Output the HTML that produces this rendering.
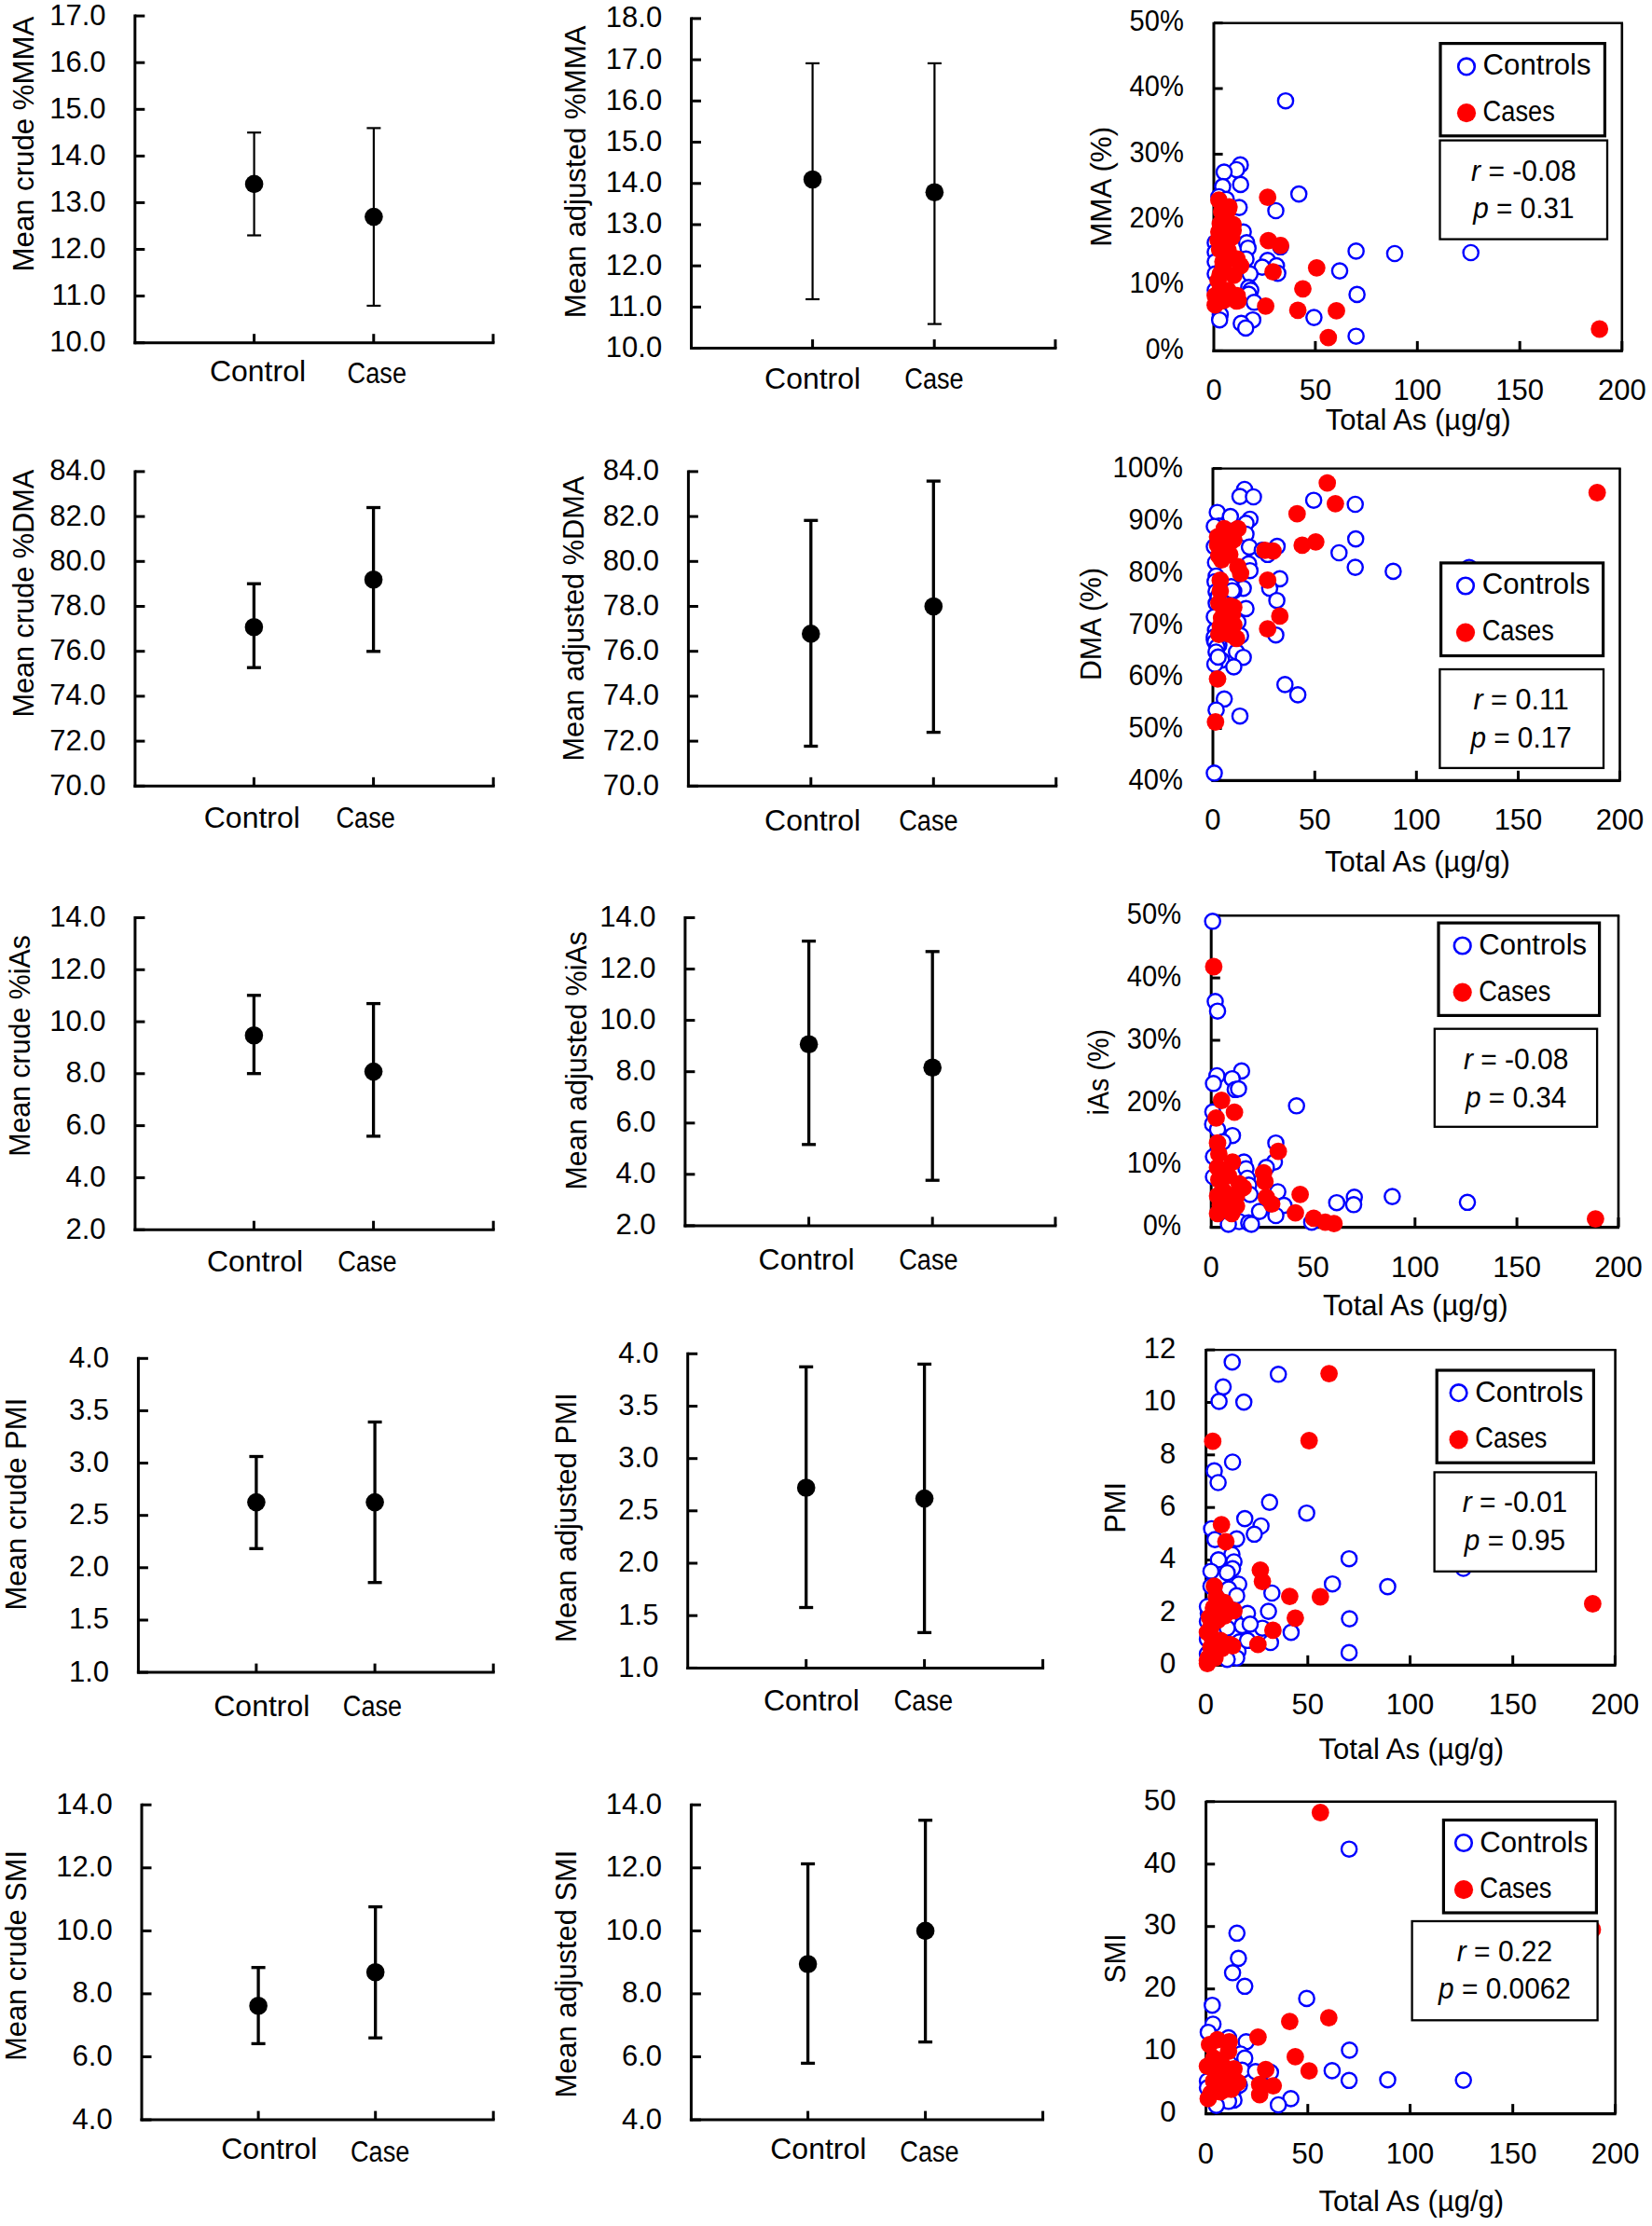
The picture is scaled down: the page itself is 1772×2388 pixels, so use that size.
<!DOCTYPE html>
<html lang="en"><head><meta charset="utf-8"><title>Arsenic metabolism figure</title>
<style>
html,body{margin:0;padding:0;background:#fff;}
svg{display:block;}
text{font-family:"Liberation Sans", sans-serif;fill:#000;}
</style></head>
<body>
<svg width="1772" height="2388" viewBox="0 0 1772 2388">
<rect width="1772" height="2388" fill="#fff"/>
<line x1="144.8" y1="15.6" x2="144.8" y2="369.2" stroke="#000" stroke-width="3.0" stroke-linecap="butt"/>
<line x1="143.3" y1="367.7" x2="530.5" y2="367.7" stroke="#000" stroke-width="3.0" stroke-linecap="butt"/>
<line x1="144.8" y1="17.1" x2="155.3" y2="17.1" stroke="#000" stroke-width="3.0" stroke-linecap="butt"/>
<text x="113.5" y="26.5" font-size="31" text-anchor="end">17.0</text>
<line x1="144.8" y1="67.2" x2="155.3" y2="67.2" stroke="#000" stroke-width="3.0" stroke-linecap="butt"/>
<text x="113.5" y="76.6" font-size="31" text-anchor="end">16.0</text>
<line x1="144.8" y1="117.3" x2="155.3" y2="117.3" stroke="#000" stroke-width="3.0" stroke-linecap="butt"/>
<text x="113.5" y="126.7" font-size="31" text-anchor="end">15.0</text>
<line x1="144.8" y1="167.4" x2="155.3" y2="167.4" stroke="#000" stroke-width="3.0" stroke-linecap="butt"/>
<text x="113.5" y="176.8" font-size="31" text-anchor="end">14.0</text>
<line x1="144.8" y1="217.4" x2="155.3" y2="217.4" stroke="#000" stroke-width="3.0" stroke-linecap="butt"/>
<text x="113.5" y="226.8" font-size="31" text-anchor="end">13.0</text>
<line x1="144.8" y1="267.5" x2="155.3" y2="267.5" stroke="#000" stroke-width="3.0" stroke-linecap="butt"/>
<text x="113.5" y="276.9" font-size="31" text-anchor="end">12.0</text>
<line x1="144.8" y1="317.6" x2="155.3" y2="317.6" stroke="#000" stroke-width="3.0" stroke-linecap="butt"/>
<text x="113.5" y="327.0" font-size="31" text-anchor="end">11.0</text>
<line x1="144.8" y1="367.7" x2="155.3" y2="367.7" stroke="#000" stroke-width="3.0" stroke-linecap="butt"/>
<text x="113.5" y="377.1" font-size="31" text-anchor="end">10.0</text>
<line x1="272.6" y1="367.7" x2="272.6" y2="358.2" stroke="#000" stroke-width="3.0" stroke-linecap="butt"/>
<line x1="400.8" y1="367.7" x2="400.8" y2="358.2" stroke="#000" stroke-width="3.0" stroke-linecap="butt"/>
<line x1="529.0" y1="367.7" x2="529.0" y2="358.2" stroke="#000" stroke-width="3.0" stroke-linecap="butt"/>
<line x1="272.6" y1="142.2" x2="272.6" y2="252.5" stroke="#000" stroke-width="2.2" stroke-linecap="butt"/>
<line x1="265.1" y1="142.2" x2="280.1" y2="142.2" stroke="#000" stroke-width="2.2" stroke-linecap="butt"/>
<line x1="265.1" y1="252.5" x2="280.1" y2="252.5" stroke="#000" stroke-width="2.2" stroke-linecap="butt"/>
<circle cx="272.6" cy="197.4" r="9.8" fill="#000"/>
<line x1="400.9" y1="137.4" x2="400.9" y2="328.0" stroke="#000" stroke-width="2.2" stroke-linecap="butt"/>
<line x1="393.4" y1="137.4" x2="408.4" y2="137.4" stroke="#000" stroke-width="2.2" stroke-linecap="butt"/>
<line x1="393.4" y1="328.0" x2="408.4" y2="328.0" stroke="#000" stroke-width="2.2" stroke-linecap="butt"/>
<circle cx="400.9" cy="232.6" r="9.8" fill="#000"/>
<text x="36.5" y="154.7" font-size="31" text-anchor="middle" textLength="273.8" lengthAdjust="spacingAndGlyphs" transform="rotate(-90 36.5 154.7)">Mean crude %MMA</text>
<text x="276.5" y="409.3" font-size="31" text-anchor="middle" textLength="103.0" lengthAdjust="spacingAndGlyphs">Control</text>
<text x="404.3" y="410.8" font-size="31" text-anchor="middle" textLength="63.4" lengthAdjust="spacingAndGlyphs">Case</text>
<line x1="741.5" y1="18.4" x2="741.5" y2="375.1" stroke="#000" stroke-width="3.0" stroke-linecap="butt"/>
<line x1="740.0" y1="373.6" x2="1133.5" y2="373.6" stroke="#000" stroke-width="3.0" stroke-linecap="butt"/>
<line x1="741.5" y1="19.9" x2="752.0" y2="19.9" stroke="#000" stroke-width="3.0" stroke-linecap="butt"/>
<text x="710.2" y="29.3" font-size="31" text-anchor="end">18.0</text>
<line x1="741.5" y1="64.1" x2="752.0" y2="64.1" stroke="#000" stroke-width="3.0" stroke-linecap="butt"/>
<text x="710.2" y="73.5" font-size="31" text-anchor="end">17.0</text>
<line x1="741.5" y1="108.3" x2="752.0" y2="108.3" stroke="#000" stroke-width="3.0" stroke-linecap="butt"/>
<text x="710.2" y="117.7" font-size="31" text-anchor="end">16.0</text>
<line x1="741.5" y1="152.5" x2="752.0" y2="152.5" stroke="#000" stroke-width="3.0" stroke-linecap="butt"/>
<text x="710.2" y="161.9" font-size="31" text-anchor="end">15.0</text>
<line x1="741.5" y1="196.8" x2="752.0" y2="196.8" stroke="#000" stroke-width="3.0" stroke-linecap="butt"/>
<text x="710.2" y="206.2" font-size="31" text-anchor="end">14.0</text>
<line x1="741.5" y1="241.0" x2="752.0" y2="241.0" stroke="#000" stroke-width="3.0" stroke-linecap="butt"/>
<text x="710.2" y="250.4" font-size="31" text-anchor="end">13.0</text>
<line x1="741.5" y1="285.2" x2="752.0" y2="285.2" stroke="#000" stroke-width="3.0" stroke-linecap="butt"/>
<text x="710.2" y="294.6" font-size="31" text-anchor="end">12.0</text>
<line x1="741.5" y1="329.4" x2="752.0" y2="329.4" stroke="#000" stroke-width="3.0" stroke-linecap="butt"/>
<text x="710.2" y="338.8" font-size="31" text-anchor="end">11.0</text>
<line x1="741.5" y1="373.6" x2="752.0" y2="373.6" stroke="#000" stroke-width="3.0" stroke-linecap="butt"/>
<text x="710.2" y="383.0" font-size="31" text-anchor="end">10.0</text>
<line x1="871.6" y1="373.6" x2="871.6" y2="364.1" stroke="#000" stroke-width="3.0" stroke-linecap="butt"/>
<line x1="1002.2" y1="373.6" x2="1002.2" y2="364.1" stroke="#000" stroke-width="3.0" stroke-linecap="butt"/>
<line x1="1132.0" y1="373.6" x2="1132.0" y2="364.1" stroke="#000" stroke-width="3.0" stroke-linecap="butt"/>
<line x1="871.6" y1="67.9" x2="871.6" y2="321.0" stroke="#000" stroke-width="2.2" stroke-linecap="butt"/>
<line x1="864.1" y1="67.9" x2="879.1" y2="67.9" stroke="#000" stroke-width="2.2" stroke-linecap="butt"/>
<line x1="864.1" y1="321.0" x2="879.1" y2="321.0" stroke="#000" stroke-width="2.2" stroke-linecap="butt"/>
<circle cx="871.6" cy="192.5" r="9.8" fill="#000"/>
<line x1="1002.4" y1="67.9" x2="1002.4" y2="347.6" stroke="#000" stroke-width="2.2" stroke-linecap="butt"/>
<line x1="994.9" y1="67.9" x2="1009.9" y2="67.9" stroke="#000" stroke-width="2.2" stroke-linecap="butt"/>
<line x1="994.9" y1="347.6" x2="1009.9" y2="347.6" stroke="#000" stroke-width="2.2" stroke-linecap="butt"/>
<circle cx="1002.4" cy="206.3" r="9.8" fill="#000"/>
<text x="628.3" y="184.4" font-size="31" text-anchor="middle" textLength="313.8" lengthAdjust="spacingAndGlyphs" transform="rotate(-90 628.3 184.4)">Mean adjusted %MMA</text>
<text x="871.6" y="416.9" font-size="31" text-anchor="middle" textLength="103.0" lengthAdjust="spacingAndGlyphs">Control</text>
<text x="1002.0" y="416.9" font-size="31" text-anchor="middle" textLength="63.4" lengthAdjust="spacingAndGlyphs">Case</text>
<line x1="1302.0" y1="23.7" x2="1302.0" y2="377.9" stroke="#000" stroke-width="3.0" stroke-linecap="butt"/>
<line x1="1300.5" y1="376.4" x2="1740.8" y2="376.4" stroke="#000" stroke-width="3.2" stroke-linecap="butt"/>
<line x1="1302.0" y1="24.7" x2="1741.0" y2="24.7" stroke="#000" stroke-width="2.4" stroke-linecap="butt"/>
<line x1="1739.8" y1="24.7" x2="1739.8" y2="376.4" stroke="#000" stroke-width="2.6" stroke-linecap="butt"/>
<line x1="1302.0" y1="24.7" x2="1311.6" y2="24.7" stroke="#000" stroke-width="3.0" stroke-linecap="butt"/>
<text x="1269.8" y="33.0" font-size="31" text-anchor="end" textLength="58.2" lengthAdjust="spacingAndGlyphs">50%</text>
<line x1="1302.0" y1="95.0" x2="1311.6" y2="95.0" stroke="#000" stroke-width="3.0" stroke-linecap="butt"/>
<text x="1269.8" y="103.3" font-size="31" text-anchor="end" textLength="58.2" lengthAdjust="spacingAndGlyphs">40%</text>
<line x1="1302.0" y1="165.4" x2="1311.6" y2="165.4" stroke="#000" stroke-width="3.0" stroke-linecap="butt"/>
<text x="1269.8" y="173.7" font-size="31" text-anchor="end" textLength="58.2" lengthAdjust="spacingAndGlyphs">30%</text>
<line x1="1302.0" y1="235.7" x2="1311.6" y2="235.7" stroke="#000" stroke-width="3.0" stroke-linecap="butt"/>
<text x="1269.8" y="244.0" font-size="31" text-anchor="end" textLength="58.2" lengthAdjust="spacingAndGlyphs">20%</text>
<line x1="1302.0" y1="306.1" x2="1311.6" y2="306.1" stroke="#000" stroke-width="3.0" stroke-linecap="butt"/>
<text x="1269.8" y="314.4" font-size="31" text-anchor="end" textLength="58.2" lengthAdjust="spacingAndGlyphs">10%</text>
<line x1="1302.0" y1="376.4" x2="1311.6" y2="376.4" stroke="#000" stroke-width="3.0" stroke-linecap="butt"/>
<text x="1269.8" y="384.7" font-size="31" text-anchor="end" textLength="41.0" lengthAdjust="spacingAndGlyphs">0%</text>
<text x="1302.0" y="429.1" font-size="31" text-anchor="middle">0</text>
<line x1="1410.9" y1="376.4" x2="1410.9" y2="365.9" stroke="#000" stroke-width="3.0" stroke-linecap="butt"/>
<text x="1410.9" y="429.1" font-size="31" text-anchor="middle">50</text>
<line x1="1520.3" y1="376.4" x2="1520.3" y2="365.9" stroke="#000" stroke-width="3.0" stroke-linecap="butt"/>
<text x="1520.3" y="429.1" font-size="31" text-anchor="middle">100</text>
<line x1="1630.2" y1="376.4" x2="1630.2" y2="365.9" stroke="#000" stroke-width="3.0" stroke-linecap="butt"/>
<text x="1630.2" y="429.1" font-size="31" text-anchor="middle">150</text>
<line x1="1739.8" y1="376.4" x2="1739.8" y2="365.9" stroke="#000" stroke-width="3.0" stroke-linecap="butt"/>
<text x="1739.8" y="429.1" font-size="31" text-anchor="middle">200</text>
<text x="1521.2" y="461.0" font-size="31" text-anchor="middle" textLength="198.8" lengthAdjust="spacingAndGlyphs">Total As (µg/g)</text>
<text x="1191.6" y="200.3" font-size="31" text-anchor="middle" textLength="128.9" lengthAdjust="spacingAndGlyphs" transform="rotate(-90 1191.6 200.3)">MMA (%)</text>
<g fill="#fff" stroke="#0000ff" stroke-width="2.4">
<circle cx="1330.4" cy="176.9" r="8.1"/>
<circle cx="1326.3" cy="182.0" r="8.1"/>
<circle cx="1313.0" cy="184.6" r="8.1"/>
<circle cx="1330.7" cy="197.9" r="8.1"/>
<circle cx="1311.5" cy="200.1" r="8.1"/>
<circle cx="1307.4" cy="211.0" r="8.1"/>
<circle cx="1315.4" cy="213.9" r="8.1"/>
<circle cx="1329.2" cy="222.6" r="8.1"/>
<circle cx="1393.2" cy="208.1" r="8.1"/>
<circle cx="1368.5" cy="226.0" r="8.1"/>
<circle cx="1333.6" cy="248.8" r="8.1"/>
<circle cx="1337.2" cy="260.4" r="8.1"/>
<circle cx="1338.7" cy="266.2" r="8.1"/>
<circle cx="1303.5" cy="260.4" r="8.1"/>
<circle cx="1303.5" cy="270.6" r="8.1"/>
<circle cx="1303.5" cy="280.8" r="8.1"/>
<circle cx="1303.5" cy="293.8" r="8.1"/>
<circle cx="1303.5" cy="311.3" r="8.1"/>
<circle cx="1373.5" cy="264.8" r="8.1"/>
<circle cx="1359.7" cy="279.3" r="8.1"/>
<circle cx="1369.2" cy="285.1" r="8.1"/>
<circle cx="1353.9" cy="286.6" r="8.1"/>
<circle cx="1370.6" cy="293.1" r="8.1"/>
<circle cx="1340.8" cy="293.8" r="8.1"/>
<circle cx="1339.4" cy="308.4" r="8.1"/>
<circle cx="1341.6" cy="311.3" r="8.1"/>
<circle cx="1339.4" cy="315.6" r="8.1"/>
<circle cx="1345.2" cy="324.3" r="8.1"/>
<circle cx="1308.9" cy="337.4" r="8.1"/>
<circle cx="1308.2" cy="343.2" r="8.1"/>
<circle cx="1343.8" cy="343.2" r="8.1"/>
<circle cx="1331.4" cy="346.9" r="8.1"/>
<circle cx="1336.2" cy="351.9" r="8.1"/>
<circle cx="1454.6" cy="269.4" r="8.1"/>
<circle cx="1496.0" cy="272.0" r="8.1"/>
<circle cx="1437.0" cy="290.6" r="8.1"/>
<circle cx="1455.6" cy="315.9" r="8.1"/>
<circle cx="1409.4" cy="340.6" r="8.1"/>
<circle cx="1454.6" cy="360.7" r="8.1"/>
<circle cx="1336.5" cy="277.9" r="8.1"/>
<circle cx="1379" cy="108.2" r="8.1"/>
<circle cx="1577.7" cy="271" r="8.1"/>
</g>
<g fill="#ff0000">
<circle cx="1307.4" cy="214.7" r="9.4"/>
<circle cx="1318.3" cy="221.9" r="9.4"/>
<circle cx="1310.3" cy="227.0" r="9.4"/>
<circle cx="1308.9" cy="240.1" r="9.4"/>
<circle cx="1322.7" cy="240.8" r="9.4"/>
<circle cx="1307.4" cy="248.8" r="9.4"/>
<circle cx="1321.2" cy="254.6" r="9.4"/>
<circle cx="1359.7" cy="211.7" r="9.4"/>
<circle cx="1360.5" cy="258.2" r="9.4"/>
<circle cx="1373.5" cy="263.3" r="9.4"/>
<circle cx="1308.2" cy="267.7" r="9.4"/>
<circle cx="1327.0" cy="277.9" r="9.4"/>
<circle cx="1311.8" cy="280.8" r="9.4"/>
<circle cx="1330.7" cy="285.1" r="9.4"/>
<circle cx="1308.9" cy="293.8" r="9.4"/>
<circle cx="1323.4" cy="295.3" r="9.4"/>
<circle cx="1365.5" cy="291.7" r="9.4"/>
<circle cx="1412.3" cy="287.3" r="9.4"/>
<circle cx="1397.5" cy="309.8" r="9.4"/>
<circle cx="1308.9" cy="311.3" r="9.4"/>
<circle cx="1327.0" cy="317.1" r="9.4"/>
<circle cx="1308.9" cy="321.4" r="9.4"/>
<circle cx="1326.3" cy="322.9" r="9.4"/>
<circle cx="1303.5" cy="327.2" r="9.4"/>
<circle cx="1357.6" cy="328.4" r="9.4"/>
<circle cx="1392.1" cy="332.8" r="9.4"/>
<circle cx="1433.5" cy="333.4" r="9.4"/>
<circle cx="1424.8" cy="362.1" r="9.4"/>
<circle cx="1715.7" cy="353" r="9.4"/>
<circle cx="1317.3" cy="225.5" r="9.4"/>
<circle cx="1312.0" cy="236.3" r="9.4"/>
<circle cx="1322.7" cy="247.0" r="9.4"/>
<circle cx="1306.6" cy="257.8" r="9.4"/>
<circle cx="1317.3" cy="268.6" r="9.4"/>
<circle cx="1330.3" cy="284.8" r="9.4"/>
<circle cx="1312.0" cy="284.8" r="9.4"/>
<circle cx="1306.6" cy="300.9" r="9.4"/>
<circle cx="1317.3" cy="311.7" r="9.4"/>
<circle cx="1328.1" cy="322.5" r="9.4"/>
<circle cx="1312.0" cy="322.5" r="9.4"/>
<circle cx="1303.5" cy="317.1" r="9.4"/>
</g>
<rect x="1545.0" y="46.6" width="176.4" height="99.2" fill="#fff" stroke="#000" stroke-width="3.2"/>
<circle cx="1573.0" cy="71.4" r="8.8" fill="none" stroke="#0000ff" stroke-width="2.6"/>
<circle cx="1573.0" cy="121.2" r="10.1" fill="#ff0000"/>
<text x="1590.6" y="80.1" font-size="31" text-anchor="start" textLength="116.0" lengthAdjust="spacingAndGlyphs">Controls</text>
<text x="1590.6" y="130.2" font-size="31" text-anchor="start" textLength="77.2" lengthAdjust="spacingAndGlyphs">Cases</text>
<rect x="1544.5" y="150.6" width="179.5" height="106.0" fill="#fff" stroke="#000" stroke-width="2.3"/>
<text x="1634.4" y="193.9" font-size="31" text-anchor="middle" textLength="112.6" lengthAdjust="spacingAndGlyphs"><tspan font-style="italic">r</tspan> = -0.08</text>
<text x="1634.4" y="234.1" font-size="31" text-anchor="middle" textLength="108.3" lengthAdjust="spacingAndGlyphs"><tspan font-style="italic">p</tspan> = 0.31</text>
<line x1="144.9" y1="504.4" x2="144.9" y2="844.8" stroke="#000" stroke-width="3.0" stroke-linecap="butt"/>
<line x1="143.4" y1="843.3" x2="530.7" y2="843.3" stroke="#000" stroke-width="3.0" stroke-linecap="butt"/>
<line x1="144.9" y1="505.9" x2="155.4" y2="505.9" stroke="#000" stroke-width="3.0" stroke-linecap="butt"/>
<text x="113.6" y="515.3" font-size="31" text-anchor="end">84.0</text>
<line x1="144.9" y1="554.1" x2="155.4" y2="554.1" stroke="#000" stroke-width="3.0" stroke-linecap="butt"/>
<text x="113.6" y="563.5" font-size="31" text-anchor="end">82.0</text>
<line x1="144.9" y1="602.3" x2="155.4" y2="602.3" stroke="#000" stroke-width="3.0" stroke-linecap="butt"/>
<text x="113.6" y="611.7" font-size="31" text-anchor="end">80.0</text>
<line x1="144.9" y1="650.5" x2="155.4" y2="650.5" stroke="#000" stroke-width="3.0" stroke-linecap="butt"/>
<text x="113.6" y="659.9" font-size="31" text-anchor="end">78.0</text>
<line x1="144.9" y1="698.7" x2="155.4" y2="698.7" stroke="#000" stroke-width="3.0" stroke-linecap="butt"/>
<text x="113.6" y="708.1" font-size="31" text-anchor="end">76.0</text>
<line x1="144.9" y1="746.9" x2="155.4" y2="746.9" stroke="#000" stroke-width="3.0" stroke-linecap="butt"/>
<text x="113.6" y="756.3" font-size="31" text-anchor="end">74.0</text>
<line x1="144.9" y1="795.1" x2="155.4" y2="795.1" stroke="#000" stroke-width="3.0" stroke-linecap="butt"/>
<text x="113.6" y="804.5" font-size="31" text-anchor="end">72.0</text>
<line x1="144.9" y1="843.3" x2="155.4" y2="843.3" stroke="#000" stroke-width="3.0" stroke-linecap="butt"/>
<text x="113.6" y="852.7" font-size="31" text-anchor="end">70.0</text>
<line x1="272.4" y1="843.3" x2="272.4" y2="833.8" stroke="#000" stroke-width="3.0" stroke-linecap="butt"/>
<line x1="400.6" y1="843.3" x2="400.6" y2="833.8" stroke="#000" stroke-width="3.0" stroke-linecap="butt"/>
<line x1="529.2" y1="843.3" x2="529.2" y2="833.8" stroke="#000" stroke-width="3.0" stroke-linecap="butt"/>
<line x1="272.4" y1="626.2" x2="272.4" y2="716.2" stroke="#000" stroke-width="3.3" stroke-linecap="butt"/>
<line x1="264.9" y1="626.2" x2="279.9" y2="626.2" stroke="#000" stroke-width="3.3" stroke-linecap="butt"/>
<line x1="264.9" y1="716.2" x2="279.9" y2="716.2" stroke="#000" stroke-width="3.3" stroke-linecap="butt"/>
<circle cx="272.4" cy="672.7" r="9.8" fill="#000"/>
<line x1="400.6" y1="544.5" x2="400.6" y2="698.8" stroke="#000" stroke-width="3.3" stroke-linecap="butt"/>
<line x1="393.1" y1="544.5" x2="408.1" y2="544.5" stroke="#000" stroke-width="3.3" stroke-linecap="butt"/>
<line x1="393.1" y1="698.8" x2="408.1" y2="698.8" stroke="#000" stroke-width="3.3" stroke-linecap="butt"/>
<circle cx="400.6" cy="621.8" r="9.8" fill="#000"/>
<text x="35.9" y="636.7" font-size="31" text-anchor="middle" textLength="265.8" lengthAdjust="spacingAndGlyphs" transform="rotate(-90 35.9 636.7)">Mean crude %DMA</text>
<text x="270.3" y="887.8" font-size="31" text-anchor="middle" textLength="103.0" lengthAdjust="spacingAndGlyphs">Control</text>
<text x="392.2" y="887.8" font-size="31" text-anchor="middle" textLength="63.4" lengthAdjust="spacingAndGlyphs">Case</text>
<line x1="738.4" y1="504.4" x2="738.4" y2="844.8" stroke="#000" stroke-width="3.0" stroke-linecap="butt"/>
<line x1="736.9" y1="843.3" x2="1134.3" y2="843.3" stroke="#000" stroke-width="3.0" stroke-linecap="butt"/>
<line x1="738.4" y1="505.9" x2="748.9" y2="505.9" stroke="#000" stroke-width="3.0" stroke-linecap="butt"/>
<text x="707.1" y="515.3" font-size="31" text-anchor="end">84.0</text>
<line x1="738.4" y1="554.1" x2="748.9" y2="554.1" stroke="#000" stroke-width="3.0" stroke-linecap="butt"/>
<text x="707.1" y="563.5" font-size="31" text-anchor="end">82.0</text>
<line x1="738.4" y1="602.3" x2="748.9" y2="602.3" stroke="#000" stroke-width="3.0" stroke-linecap="butt"/>
<text x="707.1" y="611.7" font-size="31" text-anchor="end">80.0</text>
<line x1="738.4" y1="650.5" x2="748.9" y2="650.5" stroke="#000" stroke-width="3.0" stroke-linecap="butt"/>
<text x="707.1" y="659.9" font-size="31" text-anchor="end">78.0</text>
<line x1="738.4" y1="698.7" x2="748.9" y2="698.7" stroke="#000" stroke-width="3.0" stroke-linecap="butt"/>
<text x="707.1" y="708.1" font-size="31" text-anchor="end">76.0</text>
<line x1="738.4" y1="746.9" x2="748.9" y2="746.9" stroke="#000" stroke-width="3.0" stroke-linecap="butt"/>
<text x="707.1" y="756.3" font-size="31" text-anchor="end">74.0</text>
<line x1="738.4" y1="795.1" x2="748.9" y2="795.1" stroke="#000" stroke-width="3.0" stroke-linecap="butt"/>
<text x="707.1" y="804.5" font-size="31" text-anchor="end">72.0</text>
<line x1="738.4" y1="843.3" x2="748.9" y2="843.3" stroke="#000" stroke-width="3.0" stroke-linecap="butt"/>
<text x="707.1" y="852.7" font-size="31" text-anchor="end">70.0</text>
<line x1="869.8" y1="843.3" x2="869.8" y2="833.8" stroke="#000" stroke-width="3.0" stroke-linecap="butt"/>
<line x1="1001.3" y1="843.3" x2="1001.3" y2="833.8" stroke="#000" stroke-width="3.0" stroke-linecap="butt"/>
<line x1="1132.8" y1="843.3" x2="1132.8" y2="833.8" stroke="#000" stroke-width="3.0" stroke-linecap="butt"/>
<line x1="869.8" y1="558.3" x2="869.8" y2="800.5" stroke="#000" stroke-width="3.3" stroke-linecap="butt"/>
<line x1="862.3" y1="558.3" x2="877.3" y2="558.3" stroke="#000" stroke-width="3.3" stroke-linecap="butt"/>
<line x1="862.3" y1="800.5" x2="877.3" y2="800.5" stroke="#000" stroke-width="3.3" stroke-linecap="butt"/>
<circle cx="869.8" cy="679.9" r="9.8" fill="#000"/>
<line x1="1001.3" y1="516.1" x2="1001.3" y2="785.6" stroke="#000" stroke-width="3.3" stroke-linecap="butt"/>
<line x1="993.8" y1="516.1" x2="1008.8" y2="516.1" stroke="#000" stroke-width="3.3" stroke-linecap="butt"/>
<line x1="993.8" y1="785.6" x2="1008.8" y2="785.6" stroke="#000" stroke-width="3.3" stroke-linecap="butt"/>
<circle cx="1001.3" cy="650.5" r="9.8" fill="#000"/>
<text x="625.9" y="663.6" font-size="31" text-anchor="middle" textLength="305.8" lengthAdjust="spacingAndGlyphs" transform="rotate(-90 625.9 663.6)">Mean adjusted %DMA</text>
<text x="871.6" y="890.5" font-size="31" text-anchor="middle" textLength="103.0" lengthAdjust="spacingAndGlyphs">Control</text>
<text x="995.9" y="890.5" font-size="31" text-anchor="middle" textLength="63.4" lengthAdjust="spacingAndGlyphs">Case</text>
<line x1="1301.0" y1="501.6" x2="1301.0" y2="838.8" stroke="#000" stroke-width="3.0" stroke-linecap="butt"/>
<line x1="1299.5" y1="837.3" x2="1738.5" y2="837.3" stroke="#000" stroke-width="3.2" stroke-linecap="butt"/>
<line x1="1301.0" y1="502.6" x2="1738.7" y2="502.6" stroke="#000" stroke-width="2.4" stroke-linecap="butt"/>
<line x1="1737.5" y1="502.6" x2="1737.5" y2="837.3" stroke="#000" stroke-width="2.6" stroke-linecap="butt"/>
<line x1="1301.0" y1="502.6" x2="1310.6" y2="502.6" stroke="#000" stroke-width="3.0" stroke-linecap="butt"/>
<text x="1268.8" y="512.1" font-size="31" text-anchor="end" textLength="75.2" lengthAdjust="spacingAndGlyphs">100%</text>
<line x1="1301.0" y1="558.4" x2="1310.6" y2="558.4" stroke="#000" stroke-width="3.0" stroke-linecap="butt"/>
<text x="1268.8" y="567.9" font-size="31" text-anchor="end" textLength="58.2" lengthAdjust="spacingAndGlyphs">90%</text>
<line x1="1301.0" y1="614.2" x2="1310.6" y2="614.2" stroke="#000" stroke-width="3.0" stroke-linecap="butt"/>
<text x="1268.8" y="623.7" font-size="31" text-anchor="end" textLength="58.2" lengthAdjust="spacingAndGlyphs">80%</text>
<line x1="1301.0" y1="670.0" x2="1310.6" y2="670.0" stroke="#000" stroke-width="3.0" stroke-linecap="butt"/>
<text x="1268.8" y="679.5" font-size="31" text-anchor="end" textLength="58.2" lengthAdjust="spacingAndGlyphs">70%</text>
<line x1="1301.0" y1="725.7" x2="1310.6" y2="725.7" stroke="#000" stroke-width="3.0" stroke-linecap="butt"/>
<text x="1268.8" y="735.2" font-size="31" text-anchor="end" textLength="58.2" lengthAdjust="spacingAndGlyphs">60%</text>
<line x1="1301.0" y1="781.5" x2="1310.6" y2="781.5" stroke="#000" stroke-width="3.0" stroke-linecap="butt"/>
<text x="1268.8" y="791.0" font-size="31" text-anchor="end" textLength="58.2" lengthAdjust="spacingAndGlyphs">50%</text>
<line x1="1301.0" y1="837.3" x2="1310.6" y2="837.3" stroke="#000" stroke-width="3.0" stroke-linecap="butt"/>
<text x="1268.8" y="846.8" font-size="31" text-anchor="end" textLength="58.2" lengthAdjust="spacingAndGlyphs">40%</text>
<text x="1300.9" y="890.3" font-size="31" text-anchor="middle">0</text>
<line x1="1410.3" y1="837.3" x2="1410.3" y2="826.8" stroke="#000" stroke-width="3.0" stroke-linecap="butt"/>
<text x="1410.3" y="890.3" font-size="31" text-anchor="middle">50</text>
<line x1="1519.3" y1="837.3" x2="1519.3" y2="826.8" stroke="#000" stroke-width="3.0" stroke-linecap="butt"/>
<text x="1519.3" y="890.3" font-size="31" text-anchor="middle">100</text>
<line x1="1628.5" y1="837.3" x2="1628.5" y2="826.8" stroke="#000" stroke-width="3.0" stroke-linecap="butt"/>
<text x="1628.5" y="890.3" font-size="31" text-anchor="middle">150</text>
<line x1="1737.5" y1="837.3" x2="1737.5" y2="826.8" stroke="#000" stroke-width="3.0" stroke-linecap="butt"/>
<text x="1737.5" y="890.3" font-size="31" text-anchor="middle">200</text>
<text x="1520.5" y="934.9" font-size="31" text-anchor="middle" textLength="198.8" lengthAdjust="spacingAndGlyphs">Total As (µg/g)</text>
<text x="1180.6" y="669.5" font-size="31" text-anchor="middle" textLength="120.9" lengthAdjust="spacingAndGlyphs" transform="rotate(-90 1180.6 669.5)">DMA (%)</text>
<g fill="#fff" stroke="#0000ff" stroke-width="2.4">
<circle cx="1335.0" cy="525.0" r="8.1"/>
<circle cx="1330.0" cy="532.6" r="8.1"/>
<circle cx="1344.5" cy="533.0" r="8.1"/>
<circle cx="1409.1" cy="536.7" r="8.1"/>
<circle cx="1453.7" cy="541.0" r="8.1"/>
<circle cx="1305.7" cy="549.7" r="8.1"/>
<circle cx="1319.8" cy="554.1" r="8.1"/>
<circle cx="1340.8" cy="557.0" r="8.1"/>
<circle cx="1336.5" cy="561.4" r="8.1"/>
<circle cx="1307.4" cy="564.3" r="8.1"/>
<circle cx="1336.5" cy="573.0" r="8.1"/>
<circle cx="1369.9" cy="586.1" r="8.1"/>
<circle cx="1340.1" cy="586.8" r="8.1"/>
<circle cx="1353.9" cy="590.4" r="8.1"/>
<circle cx="1359.7" cy="594.8" r="8.1"/>
<circle cx="1454.2" cy="578.1" r="8.1"/>
<circle cx="1436.3" cy="593.0" r="8.1"/>
<circle cx="1453.7" cy="608.6" r="8.1"/>
<circle cx="1494.4" cy="612.9" r="8.1"/>
<circle cx="1339.4" cy="604.9" r="8.1"/>
<circle cx="1340.8" cy="612.2" r="8.1"/>
<circle cx="1372.8" cy="620.9" r="8.1"/>
<circle cx="1333.6" cy="631.1" r="8.1"/>
<circle cx="1361.9" cy="631.1" r="8.1"/>
<circle cx="1323.4" cy="634.0" r="8.1"/>
<circle cx="1369.6" cy="644.2" r="8.1"/>
<circle cx="1336.5" cy="652.9" r="8.1"/>
<circle cx="1327.8" cy="667.4" r="8.1"/>
<circle cx="1330.7" cy="681.9" r="8.1"/>
<circle cx="1368.5" cy="681.2" r="8.1"/>
<circle cx="1302.5" cy="686.3" r="8.1"/>
<circle cx="1307.4" cy="692.1" r="8.1"/>
<circle cx="1326.3" cy="699.4" r="8.1"/>
<circle cx="1333.6" cy="705.2" r="8.1"/>
<circle cx="1310.3" cy="708.1" r="8.1"/>
<circle cx="1303.1" cy="712.5" r="8.1"/>
<circle cx="1323.4" cy="715.4" r="8.1"/>
<circle cx="1303.8" cy="603.5" r="8.1"/>
<circle cx="1304.5" cy="618.0" r="8.1"/>
<circle cx="1304.5" cy="647.1" r="8.1"/>
<circle cx="1303.8" cy="676.1" r="8.1"/>
<circle cx="1378.3" cy="734.4" r="8.1"/>
<circle cx="1392.1" cy="745.4" r="8.1"/>
<circle cx="1313.2" cy="749.8" r="8.1"/>
<circle cx="1304.5" cy="761.7" r="8.1"/>
<circle cx="1330.0" cy="768.2" r="8.1"/>
<circle cx="1302.5" cy="829.3" r="8.1"/>
<circle cx="1575.9" cy="608.7" r="8.1"/>
<circle cx="1303.3" cy="624.0" r="8.1"/>
<circle cx="1304.4" cy="634.8" r="8.1"/>
<circle cx="1306.6" cy="640.2" r="8.1"/>
<circle cx="1320.6" cy="629.4" r="8.1"/>
<circle cx="1321.7" cy="633.7" r="8.1"/>
<circle cx="1302.5" cy="683.3" r="8.1"/>
<circle cx="1303.3" cy="688.7" r="8.1"/>
<circle cx="1305.5" cy="694.1" r="8.1"/>
<circle cx="1304.4" cy="699.5" r="8.1"/>
<circle cx="1306.6" cy="704.9" r="8.1"/>
<circle cx="1302.5" cy="661.7" r="8.1"/>
<circle cx="1302.5" cy="586.3" r="8.1"/>
<circle cx="1302.5" cy="564.7" r="8.1"/>
</g>
<g fill="#ff0000">
<circle cx="1423.7" cy="518.1" r="9.4"/>
<circle cx="1432.4" cy="540.3" r="9.4"/>
<circle cx="1391.3" cy="551.2" r="9.4"/>
<circle cx="1313.2" cy="567.2" r="9.4"/>
<circle cx="1327.8" cy="567.2" r="9.4"/>
<circle cx="1306.0" cy="575.9" r="9.4"/>
<circle cx="1323.4" cy="578.8" r="9.4"/>
<circle cx="1396.8" cy="584.9" r="9.4"/>
<circle cx="1411.3" cy="581.3" r="9.4"/>
<circle cx="1356.8" cy="590.4" r="9.4"/>
<circle cx="1365.5" cy="591.1" r="9.4"/>
<circle cx="1313.2" cy="590.4" r="9.4"/>
<circle cx="1310.3" cy="600.6" r="9.4"/>
<circle cx="1327.8" cy="607.9" r="9.4"/>
<circle cx="1330.7" cy="615.1" r="9.4"/>
<circle cx="1308.9" cy="622.4" r="9.4"/>
<circle cx="1359.7" cy="622.4" r="9.4"/>
<circle cx="1308.9" cy="634.0" r="9.4"/>
<circle cx="1307.4" cy="647.1" r="9.4"/>
<circle cx="1319.1" cy="650.0" r="9.4"/>
<circle cx="1372.8" cy="660.9" r="9.4"/>
<circle cx="1322.0" cy="658.7" r="9.4"/>
<circle cx="1310.3" cy="663.1" r="9.4"/>
<circle cx="1323.4" cy="670.3" r="9.4"/>
<circle cx="1359.7" cy="674.7" r="9.4"/>
<circle cx="1307.4" cy="680.5" r="9.4"/>
<circle cx="1326.3" cy="684.9" r="9.4"/>
<circle cx="1306.0" cy="728.3" r="9.4"/>
<circle cx="1303.8" cy="774.5" r="9.4"/>
<circle cx="1319.1" cy="573.0" r="9.4"/>
<circle cx="1316.2" cy="584.6" r="9.4"/>
<circle cx="1306.0" cy="584.6" r="9.4"/>
<circle cx="1319.1" cy="594.8" r="9.4"/>
<circle cx="1307.4" cy="596.2" r="9.4"/>
<circle cx="1323.4" cy="651.4" r="9.4"/>
<circle cx="1316.2" cy="668.9" r="9.4"/>
<circle cx="1308.9" cy="671.8" r="9.4"/>
<circle cx="1319.1" cy="680.5" r="9.4"/>
<circle cx="1713.2" cy="528.5" r="9.4"/>
</g>
<rect x="1545.6" y="603.9" width="174.0" height="99.6" fill="#fff" stroke="#000" stroke-width="3.2"/>
<circle cx="1572.0" cy="628.5" r="8.8" fill="none" stroke="#0000ff" stroke-width="2.6"/>
<circle cx="1572.0" cy="678.6" r="10.1" fill="#ff0000"/>
<text x="1589.7" y="637.2" font-size="31" text-anchor="start" textLength="116.0" lengthAdjust="spacingAndGlyphs">Controls</text>
<text x="1589.7" y="687.3" font-size="31" text-anchor="start" textLength="77.2" lengthAdjust="spacingAndGlyphs">Cases</text>
<rect x="1544.4" y="718.0" width="175.6" height="105.9" fill="#fff" stroke="#000" stroke-width="2.3"/>
<text x="1631.6" y="761.4" font-size="31" text-anchor="middle" textLength="102.4" lengthAdjust="spacingAndGlyphs"><tspan font-style="italic">r</tspan> = 0.11</text>
<text x="1631.6" y="802.1" font-size="31" text-anchor="middle" textLength="108.3" lengthAdjust="spacingAndGlyphs"><tspan font-style="italic">p</tspan> = 0.17</text>
<line x1="144.9" y1="983.0" x2="144.9" y2="1320.7" stroke="#000" stroke-width="3.0" stroke-linecap="butt"/>
<line x1="143.4" y1="1319.2" x2="530.7" y2="1319.2" stroke="#000" stroke-width="3.0" stroke-linecap="butt"/>
<line x1="144.9" y1="984.5" x2="155.4" y2="984.5" stroke="#000" stroke-width="3.0" stroke-linecap="butt"/>
<text x="113.6" y="993.9" font-size="31" text-anchor="end">14.0</text>
<line x1="144.9" y1="1040.3" x2="155.4" y2="1040.3" stroke="#000" stroke-width="3.0" stroke-linecap="butt"/>
<text x="113.6" y="1049.7" font-size="31" text-anchor="end">12.0</text>
<line x1="144.9" y1="1096.1" x2="155.4" y2="1096.1" stroke="#000" stroke-width="3.0" stroke-linecap="butt"/>
<text x="113.6" y="1105.5" font-size="31" text-anchor="end">10.0</text>
<line x1="144.9" y1="1151.8" x2="155.4" y2="1151.8" stroke="#000" stroke-width="3.0" stroke-linecap="butt"/>
<text x="113.6" y="1161.2" font-size="31" text-anchor="end">8.0</text>
<line x1="144.9" y1="1207.6" x2="155.4" y2="1207.6" stroke="#000" stroke-width="3.0" stroke-linecap="butt"/>
<text x="113.6" y="1217.0" font-size="31" text-anchor="end">6.0</text>
<line x1="144.9" y1="1263.4" x2="155.4" y2="1263.4" stroke="#000" stroke-width="3.0" stroke-linecap="butt"/>
<text x="113.6" y="1272.8" font-size="31" text-anchor="end">4.0</text>
<line x1="144.9" y1="1319.2" x2="155.4" y2="1319.2" stroke="#000" stroke-width="3.0" stroke-linecap="butt"/>
<text x="113.6" y="1328.6" font-size="31" text-anchor="end">2.0</text>
<line x1="272.4" y1="1319.2" x2="272.4" y2="1309.7" stroke="#000" stroke-width="3.0" stroke-linecap="butt"/>
<line x1="400.6" y1="1319.2" x2="400.6" y2="1309.7" stroke="#000" stroke-width="3.0" stroke-linecap="butt"/>
<line x1="529.2" y1="1319.2" x2="529.2" y2="1309.7" stroke="#000" stroke-width="3.0" stroke-linecap="butt"/>
<line x1="272.4" y1="1067.8" x2="272.4" y2="1151.7" stroke="#000" stroke-width="3.3" stroke-linecap="butt"/>
<line x1="264.9" y1="1067.8" x2="279.9" y2="1067.8" stroke="#000" stroke-width="3.3" stroke-linecap="butt"/>
<line x1="264.9" y1="1151.7" x2="279.9" y2="1151.7" stroke="#000" stroke-width="3.3" stroke-linecap="butt"/>
<circle cx="272.4" cy="1110.7" r="9.8" fill="#000"/>
<line x1="400.6" y1="1076.6" x2="400.6" y2="1218.9" stroke="#000" stroke-width="3.3" stroke-linecap="butt"/>
<line x1="393.1" y1="1076.6" x2="408.1" y2="1076.6" stroke="#000" stroke-width="3.3" stroke-linecap="butt"/>
<line x1="393.1" y1="1218.9" x2="408.1" y2="1218.9" stroke="#000" stroke-width="3.3" stroke-linecap="butt"/>
<circle cx="400.6" cy="1149.6" r="9.8" fill="#000"/>
<text x="32.2" y="1122.0" font-size="31" text-anchor="middle" textLength="237.6" lengthAdjust="spacingAndGlyphs" transform="rotate(-90 32.2 1122.0)">Mean crude %iAs</text>
<text x="273.5" y="1364.1" font-size="31" text-anchor="middle" textLength="103.0" lengthAdjust="spacingAndGlyphs">Control</text>
<text x="394.0" y="1364.1" font-size="31" text-anchor="middle" textLength="63.4" lengthAdjust="spacingAndGlyphs">Case</text>
<line x1="734.9" y1="983.0" x2="734.9" y2="1316.4" stroke="#000" stroke-width="3.0" stroke-linecap="butt"/>
<line x1="733.4" y1="1314.9" x2="1133.5" y2="1314.9" stroke="#000" stroke-width="3.0" stroke-linecap="butt"/>
<line x1="734.9" y1="984.5" x2="745.4" y2="984.5" stroke="#000" stroke-width="3.0" stroke-linecap="butt"/>
<text x="703.6" y="993.9" font-size="31" text-anchor="end">14.0</text>
<line x1="734.9" y1="1039.6" x2="745.4" y2="1039.6" stroke="#000" stroke-width="3.0" stroke-linecap="butt"/>
<text x="703.6" y="1049.0" font-size="31" text-anchor="end">12.0</text>
<line x1="734.9" y1="1094.6" x2="745.4" y2="1094.6" stroke="#000" stroke-width="3.0" stroke-linecap="butt"/>
<text x="703.6" y="1104.0" font-size="31" text-anchor="end">10.0</text>
<line x1="734.9" y1="1149.7" x2="745.4" y2="1149.7" stroke="#000" stroke-width="3.0" stroke-linecap="butt"/>
<text x="703.6" y="1159.1" font-size="31" text-anchor="end">8.0</text>
<line x1="734.9" y1="1204.8" x2="745.4" y2="1204.8" stroke="#000" stroke-width="3.0" stroke-linecap="butt"/>
<text x="703.6" y="1214.2" font-size="31" text-anchor="end">6.0</text>
<line x1="734.9" y1="1259.8" x2="745.4" y2="1259.8" stroke="#000" stroke-width="3.0" stroke-linecap="butt"/>
<text x="703.6" y="1269.2" font-size="31" text-anchor="end">4.0</text>
<line x1="734.9" y1="1314.9" x2="745.4" y2="1314.9" stroke="#000" stroke-width="3.0" stroke-linecap="butt"/>
<text x="703.6" y="1324.3" font-size="31" text-anchor="end">2.0</text>
<line x1="867.6" y1="1314.9" x2="867.6" y2="1305.4" stroke="#000" stroke-width="3.0" stroke-linecap="butt"/>
<line x1="1000.2" y1="1314.9" x2="1000.2" y2="1305.4" stroke="#000" stroke-width="3.0" stroke-linecap="butt"/>
<line x1="1132.0" y1="1314.9" x2="1132.0" y2="1305.4" stroke="#000" stroke-width="3.0" stroke-linecap="butt"/>
<line x1="867.6" y1="1009.6" x2="867.6" y2="1227.8" stroke="#000" stroke-width="3.3" stroke-linecap="butt"/>
<line x1="860.1" y1="1009.6" x2="875.1" y2="1009.6" stroke="#000" stroke-width="3.3" stroke-linecap="butt"/>
<line x1="860.1" y1="1227.8" x2="875.1" y2="1227.8" stroke="#000" stroke-width="3.3" stroke-linecap="butt"/>
<circle cx="867.6" cy="1120.3" r="9.8" fill="#000"/>
<line x1="1000.2" y1="1020.8" x2="1000.2" y2="1266.2" stroke="#000" stroke-width="3.3" stroke-linecap="butt"/>
<line x1="992.7" y1="1020.8" x2="1007.7" y2="1020.8" stroke="#000" stroke-width="3.3" stroke-linecap="butt"/>
<line x1="992.7" y1="1266.2" x2="1007.7" y2="1266.2" stroke="#000" stroke-width="3.3" stroke-linecap="butt"/>
<circle cx="1000.2" cy="1145.2" r="9.8" fill="#000"/>
<text x="628.7" y="1137.8" font-size="31" text-anchor="middle" textLength="277.5" lengthAdjust="spacingAndGlyphs" transform="rotate(-90 628.7 1137.8)">Mean adjusted %iAs</text>
<text x="865.1" y="1362.3" font-size="31" text-anchor="middle" textLength="103.0" lengthAdjust="spacingAndGlyphs">Control</text>
<text x="995.9" y="1362.3" font-size="31" text-anchor="middle" textLength="63.4" lengthAdjust="spacingAndGlyphs">Case</text>
<line x1="1299.2" y1="981.2" x2="1299.2" y2="1318.1" stroke="#000" stroke-width="3.0" stroke-linecap="butt"/>
<line x1="1297.7" y1="1316.6" x2="1737.0" y2="1316.6" stroke="#000" stroke-width="3.2" stroke-linecap="butt"/>
<line x1="1299.2" y1="982.2" x2="1737.2" y2="982.2" stroke="#000" stroke-width="2.4" stroke-linecap="butt"/>
<line x1="1736.0" y1="982.2" x2="1736.0" y2="1316.6" stroke="#000" stroke-width="2.6" stroke-linecap="butt"/>
<line x1="1299.2" y1="982.2" x2="1308.8" y2="982.2" stroke="#000" stroke-width="3.0" stroke-linecap="butt"/>
<text x="1267.0" y="990.9" font-size="31" text-anchor="end" textLength="58.2" lengthAdjust="spacingAndGlyphs">50%</text>
<line x1="1299.2" y1="1049.1" x2="1308.8" y2="1049.1" stroke="#000" stroke-width="3.0" stroke-linecap="butt"/>
<text x="1267.0" y="1057.8" font-size="31" text-anchor="end" textLength="58.2" lengthAdjust="spacingAndGlyphs">40%</text>
<line x1="1299.2" y1="1116.0" x2="1308.8" y2="1116.0" stroke="#000" stroke-width="3.0" stroke-linecap="butt"/>
<text x="1267.0" y="1124.7" font-size="31" text-anchor="end" textLength="58.2" lengthAdjust="spacingAndGlyphs">30%</text>
<line x1="1299.2" y1="1182.8" x2="1308.8" y2="1182.8" stroke="#000" stroke-width="3.0" stroke-linecap="butt"/>
<text x="1267.0" y="1191.5" font-size="31" text-anchor="end" textLength="58.2" lengthAdjust="spacingAndGlyphs">20%</text>
<line x1="1299.2" y1="1249.7" x2="1308.8" y2="1249.7" stroke="#000" stroke-width="3.0" stroke-linecap="butt"/>
<text x="1267.0" y="1258.4" font-size="31" text-anchor="end" textLength="58.2" lengthAdjust="spacingAndGlyphs">10%</text>
<line x1="1299.2" y1="1316.6" x2="1308.8" y2="1316.6" stroke="#000" stroke-width="3.0" stroke-linecap="butt"/>
<text x="1267.0" y="1325.3" font-size="31" text-anchor="end" textLength="41.0" lengthAdjust="spacingAndGlyphs">0%</text>
<text x="1299.2" y="1369.6" font-size="31" text-anchor="middle">0</text>
<line x1="1408.4" y1="1316.6" x2="1408.4" y2="1306.1" stroke="#000" stroke-width="3.0" stroke-linecap="butt"/>
<text x="1408.4" y="1369.6" font-size="31" text-anchor="middle">50</text>
<line x1="1517.8" y1="1316.6" x2="1517.8" y2="1306.1" stroke="#000" stroke-width="3.0" stroke-linecap="butt"/>
<text x="1517.8" y="1369.6" font-size="31" text-anchor="middle">100</text>
<line x1="1627.1" y1="1316.6" x2="1627.1" y2="1306.1" stroke="#000" stroke-width="3.0" stroke-linecap="butt"/>
<text x="1627.1" y="1369.6" font-size="31" text-anchor="middle">150</text>
<line x1="1736.0" y1="1316.6" x2="1736.0" y2="1306.1" stroke="#000" stroke-width="3.0" stroke-linecap="butt"/>
<text x="1736.0" y="1369.6" font-size="31" text-anchor="middle">200</text>
<text x="1518.3" y="1411.0" font-size="31" text-anchor="middle" textLength="198.8" lengthAdjust="spacingAndGlyphs">Total As (µg/g)</text>
<text x="1189.4" y="1150.2" font-size="31" text-anchor="middle" textLength="92.5" lengthAdjust="spacingAndGlyphs" transform="rotate(-90 1189.4 1150.2)">iAs (%)</text>
<g fill="#fff" stroke="#0000ff" stroke-width="2.4">
<circle cx="1300.7" cy="988.3" r="8.1"/>
<circle cx="1303.5" cy="1074.3" r="8.1"/>
<circle cx="1306.0" cy="1084.7" r="8.1"/>
<circle cx="1331.8" cy="1148.9" r="8.1"/>
<circle cx="1305.3" cy="1154.0" r="8.1"/>
<circle cx="1321.7" cy="1157.2" r="8.1"/>
<circle cx="1301.6" cy="1162.3" r="8.1"/>
<circle cx="1324.9" cy="1168.8" r="8.1"/>
<circle cx="1328.5" cy="1168.1" r="8.1"/>
<circle cx="1390.7" cy="1186.3" r="8.1"/>
<circle cx="1300.9" cy="1192.8" r="8.1"/>
<circle cx="1300.7" cy="1205.9" r="8.1"/>
<circle cx="1306.0" cy="1211.7" r="8.1"/>
<circle cx="1322.0" cy="1218.2" r="8.1"/>
<circle cx="1311.8" cy="1224.8" r="8.1"/>
<circle cx="1368.5" cy="1226.2" r="8.1"/>
<circle cx="1367.0" cy="1246.6" r="8.1"/>
<circle cx="1358.3" cy="1252.4" r="8.1"/>
<circle cx="1334.3" cy="1246.6" r="8.1"/>
<circle cx="1336.5" cy="1253.8" r="8.1"/>
<circle cx="1337.9" cy="1264.0" r="8.1"/>
<circle cx="1339.4" cy="1271.3" r="8.1"/>
<circle cx="1340.8" cy="1281.4" r="8.1"/>
<circle cx="1370.6" cy="1278.5" r="8.1"/>
<circle cx="1377.2" cy="1293.1" r="8.1"/>
<circle cx="1351.0" cy="1299.6" r="8.1"/>
<circle cx="1368.5" cy="1304.0" r="8.1"/>
<circle cx="1329.2" cy="1310.5" r="8.1"/>
<circle cx="1339.4" cy="1311.9" r="8.1"/>
<circle cx="1342.3" cy="1313.4" r="8.1"/>
<circle cx="1317.6" cy="1313.4" r="8.1"/>
<circle cx="1433.8" cy="1290.2" r="8.1"/>
<circle cx="1452.7" cy="1284.3" r="8.1"/>
<circle cx="1452.0" cy="1292.3" r="8.1"/>
<circle cx="1493.4" cy="1283.6" r="8.1"/>
<circle cx="1407.0" cy="1311.2" r="8.1"/>
<circle cx="1301.6" cy="1240.8" r="8.1"/>
<circle cx="1301.6" cy="1262.5" r="8.1"/>
<circle cx="1574" cy="1289.8" r="8.1"/>
</g>
<g fill="#ff0000">
<circle cx="1301.9" cy="1037.0" r="9.4"/>
<circle cx="1310.3" cy="1180.5" r="9.4"/>
<circle cx="1324.1" cy="1193.2" r="9.4"/>
<circle cx="1304.5" cy="1199.4" r="9.4"/>
<circle cx="1306.0" cy="1226.2" r="9.4"/>
<circle cx="1307.4" cy="1237.9" r="9.4"/>
<circle cx="1322.0" cy="1246.6" r="9.4"/>
<circle cx="1306.0" cy="1252.4" r="9.4"/>
<circle cx="1355.4" cy="1258.2" r="9.4"/>
<circle cx="1356.8" cy="1267.6" r="9.4"/>
<circle cx="1307.4" cy="1265.5" r="9.4"/>
<circle cx="1329.2" cy="1269.8" r="9.4"/>
<circle cx="1311.8" cy="1277.1" r="9.4"/>
<circle cx="1326.3" cy="1282.9" r="9.4"/>
<circle cx="1306.0" cy="1282.9" r="9.4"/>
<circle cx="1358.3" cy="1284.3" r="9.4"/>
<circle cx="1364.1" cy="1291.6" r="9.4"/>
<circle cx="1394.6" cy="1281.4" r="9.4"/>
<circle cx="1308.9" cy="1293.1" r="9.4"/>
<circle cx="1326.3" cy="1293.8" r="9.4"/>
<circle cx="1306.0" cy="1301.8" r="9.4"/>
<circle cx="1321.2" cy="1301.8" r="9.4"/>
<circle cx="1389.5" cy="1301.1" r="9.4"/>
<circle cx="1409.1" cy="1306.9" r="9.4"/>
<circle cx="1421.5" cy="1311.2" r="9.4"/>
<circle cx="1430.9" cy="1312.7" r="9.4"/>
<circle cx="1371.1" cy="1235.2" r="9.4"/>
<circle cx="1317.6" cy="1261.1" r="9.4"/>
<circle cx="1319.1" cy="1291.6" r="9.4"/>
<circle cx="1316.2" cy="1281.4" r="9.4"/>
<circle cx="1333.6" cy="1274.2" r="9.4"/>
<circle cx="1711.4" cy="1307.6" r="9.4"/>
</g>
<rect x="1543.0" y="990.1" width="172.6" height="99.3" fill="#fff" stroke="#000" stroke-width="3.2"/>
<circle cx="1568.7" cy="1014.5" r="8.8" fill="none" stroke="#0000ff" stroke-width="2.6"/>
<circle cx="1568.7" cy="1064.6" r="10.1" fill="#ff0000"/>
<text x="1586.2" y="1023.5" font-size="31" text-anchor="start" textLength="116.0" lengthAdjust="spacingAndGlyphs">Controls</text>
<text x="1586.2" y="1073.7" font-size="31" text-anchor="start" textLength="77.2" lengthAdjust="spacingAndGlyphs">Cases</text>
<rect x="1538.8" y="1103.7" width="174.3" height="105.1" fill="#fff" stroke="#000" stroke-width="2.3"/>
<text x="1626.2" y="1147.0" font-size="31" text-anchor="middle" textLength="112.6" lengthAdjust="spacingAndGlyphs"><tspan font-style="italic">r</tspan> = -0.08</text>
<text x="1626.2" y="1187.7" font-size="31" text-anchor="middle" textLength="108.3" lengthAdjust="spacingAndGlyphs"><tspan font-style="italic">p</tspan> = 0.34</text>
<line x1="148.4" y1="1455.8" x2="148.4" y2="1795.6" stroke="#000" stroke-width="3.0" stroke-linecap="butt"/>
<line x1="146.9" y1="1794.1" x2="530.7" y2="1794.1" stroke="#000" stroke-width="3.0" stroke-linecap="butt"/>
<line x1="148.4" y1="1457.3" x2="158.9" y2="1457.3" stroke="#000" stroke-width="3.0" stroke-linecap="butt"/>
<text x="117.1" y="1466.7" font-size="31" text-anchor="end">4.0</text>
<line x1="148.4" y1="1513.4" x2="158.9" y2="1513.4" stroke="#000" stroke-width="3.0" stroke-linecap="butt"/>
<text x="117.1" y="1522.8" font-size="31" text-anchor="end">3.5</text>
<line x1="148.4" y1="1569.6" x2="158.9" y2="1569.6" stroke="#000" stroke-width="3.0" stroke-linecap="butt"/>
<text x="117.1" y="1579.0" font-size="31" text-anchor="end">3.0</text>
<line x1="148.4" y1="1625.7" x2="158.9" y2="1625.7" stroke="#000" stroke-width="3.0" stroke-linecap="butt"/>
<text x="117.1" y="1635.1" font-size="31" text-anchor="end">2.5</text>
<line x1="148.4" y1="1681.8" x2="158.9" y2="1681.8" stroke="#000" stroke-width="3.0" stroke-linecap="butt"/>
<text x="117.1" y="1691.2" font-size="31" text-anchor="end">2.0</text>
<line x1="148.4" y1="1738.0" x2="158.9" y2="1738.0" stroke="#000" stroke-width="3.0" stroke-linecap="butt"/>
<text x="117.1" y="1747.4" font-size="31" text-anchor="end">1.5</text>
<line x1="148.4" y1="1794.1" x2="158.9" y2="1794.1" stroke="#000" stroke-width="3.0" stroke-linecap="butt"/>
<text x="117.1" y="1803.5" font-size="31" text-anchor="end">1.0</text>
<line x1="274.9" y1="1794.1" x2="274.9" y2="1784.6" stroke="#000" stroke-width="3.0" stroke-linecap="butt"/>
<line x1="402.1" y1="1794.1" x2="402.1" y2="1784.6" stroke="#000" stroke-width="3.0" stroke-linecap="butt"/>
<line x1="529.2" y1="1794.1" x2="529.2" y2="1784.6" stroke="#000" stroke-width="3.0" stroke-linecap="butt"/>
<line x1="274.9" y1="1562.5" x2="274.9" y2="1661.3" stroke="#000" stroke-width="3.3" stroke-linecap="butt"/>
<line x1="267.4" y1="1562.5" x2="282.4" y2="1562.5" stroke="#000" stroke-width="3.3" stroke-linecap="butt"/>
<line x1="267.4" y1="1661.3" x2="282.4" y2="1661.3" stroke="#000" stroke-width="3.3" stroke-linecap="butt"/>
<circle cx="274.9" cy="1611.6" r="9.8" fill="#000"/>
<line x1="402.1" y1="1525.5" x2="402.1" y2="1697.7" stroke="#000" stroke-width="3.3" stroke-linecap="butt"/>
<line x1="394.6" y1="1525.5" x2="409.6" y2="1525.5" stroke="#000" stroke-width="3.3" stroke-linecap="butt"/>
<line x1="394.6" y1="1697.7" x2="409.6" y2="1697.7" stroke="#000" stroke-width="3.3" stroke-linecap="butt"/>
<circle cx="402.1" cy="1611.6" r="9.8" fill="#000"/>
<text x="27.9" y="1613.6" font-size="31" text-anchor="middle" textLength="227.8" lengthAdjust="spacingAndGlyphs" transform="rotate(-90 27.9 1613.6)">Mean crude PMI</text>
<text x="280.8" y="1841.4" font-size="31" text-anchor="middle" textLength="103.0" lengthAdjust="spacingAndGlyphs">Control</text>
<text x="399.5" y="1841.4" font-size="31" text-anchor="middle" textLength="63.4" lengthAdjust="spacingAndGlyphs">Case</text>
<line x1="737.7" y1="1450.8" x2="737.7" y2="1790.9" stroke="#000" stroke-width="3.0" stroke-linecap="butt"/>
<line x1="736.2" y1="1789.4" x2="1120.1" y2="1789.4" stroke="#000" stroke-width="3.0" stroke-linecap="butt"/>
<line x1="737.7" y1="1452.3" x2="748.2" y2="1452.3" stroke="#000" stroke-width="3.0" stroke-linecap="butt"/>
<text x="706.4" y="1461.7" font-size="31" text-anchor="end">4.0</text>
<line x1="737.7" y1="1508.5" x2="748.2" y2="1508.5" stroke="#000" stroke-width="3.0" stroke-linecap="butt"/>
<text x="706.4" y="1517.9" font-size="31" text-anchor="end">3.5</text>
<line x1="737.7" y1="1564.7" x2="748.2" y2="1564.7" stroke="#000" stroke-width="3.0" stroke-linecap="butt"/>
<text x="706.4" y="1574.1" font-size="31" text-anchor="end">3.0</text>
<line x1="737.7" y1="1620.8" x2="748.2" y2="1620.8" stroke="#000" stroke-width="3.0" stroke-linecap="butt"/>
<text x="706.4" y="1630.2" font-size="31" text-anchor="end">2.5</text>
<line x1="737.7" y1="1677.0" x2="748.2" y2="1677.0" stroke="#000" stroke-width="3.0" stroke-linecap="butt"/>
<text x="706.4" y="1686.4" font-size="31" text-anchor="end">2.0</text>
<line x1="737.7" y1="1733.2" x2="748.2" y2="1733.2" stroke="#000" stroke-width="3.0" stroke-linecap="butt"/>
<text x="706.4" y="1742.6" font-size="31" text-anchor="end">1.5</text>
<line x1="737.7" y1="1789.4" x2="748.2" y2="1789.4" stroke="#000" stroke-width="3.0" stroke-linecap="butt"/>
<text x="706.4" y="1798.8" font-size="31" text-anchor="end">1.0</text>
<line x1="864.7" y1="1789.4" x2="864.7" y2="1779.9" stroke="#000" stroke-width="3.0" stroke-linecap="butt"/>
<line x1="991.6" y1="1789.4" x2="991.6" y2="1779.9" stroke="#000" stroke-width="3.0" stroke-linecap="butt"/>
<line x1="1118.6" y1="1789.4" x2="1118.6" y2="1779.9" stroke="#000" stroke-width="3.0" stroke-linecap="butt"/>
<line x1="864.7" y1="1466.3" x2="864.7" y2="1724.5" stroke="#000" stroke-width="3.3" stroke-linecap="butt"/>
<line x1="857.2" y1="1466.3" x2="872.2" y2="1466.3" stroke="#000" stroke-width="3.3" stroke-linecap="butt"/>
<line x1="857.2" y1="1724.5" x2="872.2" y2="1724.5" stroke="#000" stroke-width="3.3" stroke-linecap="butt"/>
<circle cx="864.7" cy="1596.0" r="9.8" fill="#000"/>
<line x1="991.6" y1="1463.4" x2="991.6" y2="1751.4" stroke="#000" stroke-width="3.3" stroke-linecap="butt"/>
<line x1="984.1" y1="1463.4" x2="999.1" y2="1463.4" stroke="#000" stroke-width="3.3" stroke-linecap="butt"/>
<line x1="984.1" y1="1751.4" x2="999.1" y2="1751.4" stroke="#000" stroke-width="3.3" stroke-linecap="butt"/>
<circle cx="991.6" cy="1607.6" r="9.8" fill="#000"/>
<text x="617.9" y="1628.1" font-size="31" text-anchor="middle" textLength="267.8" lengthAdjust="spacingAndGlyphs" transform="rotate(-90 617.9 1628.1)">Mean adjusted PMI</text>
<text x="870.4" y="1834.8" font-size="31" text-anchor="middle" textLength="103.0" lengthAdjust="spacingAndGlyphs">Control</text>
<text x="990.4" y="1834.8" font-size="31" text-anchor="middle" textLength="63.4" lengthAdjust="spacingAndGlyphs">Case</text>
<line x1="1293.6" y1="1447.1" x2="1293.6" y2="1787.8" stroke="#000" stroke-width="3.0" stroke-linecap="butt"/>
<line x1="1292.1" y1="1786.3" x2="1733.6" y2="1786.3" stroke="#000" stroke-width="3.2" stroke-linecap="butt"/>
<line x1="1293.6" y1="1448.1" x2="1733.8" y2="1448.1" stroke="#000" stroke-width="2.4" stroke-linecap="butt"/>
<line x1="1732.6" y1="1448.1" x2="1732.6" y2="1786.3" stroke="#000" stroke-width="2.6" stroke-linecap="butt"/>
<line x1="1293.6" y1="1448.1" x2="1303.2" y2="1448.1" stroke="#000" stroke-width="3.0" stroke-linecap="butt"/>
<text x="1261.3" y="1456.9" font-size="31" text-anchor="end">12</text>
<line x1="1293.6" y1="1504.5" x2="1303.2" y2="1504.5" stroke="#000" stroke-width="3.0" stroke-linecap="butt"/>
<text x="1261.3" y="1513.3" font-size="31" text-anchor="end">10</text>
<line x1="1293.6" y1="1560.8" x2="1303.2" y2="1560.8" stroke="#000" stroke-width="3.0" stroke-linecap="butt"/>
<text x="1261.3" y="1569.6" font-size="31" text-anchor="end">8</text>
<line x1="1293.6" y1="1617.2" x2="1303.2" y2="1617.2" stroke="#000" stroke-width="3.0" stroke-linecap="butt"/>
<text x="1261.3" y="1626.0" font-size="31" text-anchor="end">6</text>
<line x1="1293.6" y1="1673.6" x2="1303.2" y2="1673.6" stroke="#000" stroke-width="3.0" stroke-linecap="butt"/>
<text x="1261.3" y="1682.4" font-size="31" text-anchor="end">4</text>
<line x1="1293.6" y1="1729.9" x2="1303.2" y2="1729.9" stroke="#000" stroke-width="3.0" stroke-linecap="butt"/>
<text x="1261.3" y="1738.7" font-size="31" text-anchor="end">2</text>
<line x1="1293.6" y1="1786.3" x2="1303.2" y2="1786.3" stroke="#000" stroke-width="3.0" stroke-linecap="butt"/>
<text x="1261.3" y="1795.1" font-size="31" text-anchor="end">0</text>
<text x="1293.4" y="1839.3" font-size="31" text-anchor="middle">0</text>
<line x1="1402.8" y1="1786.3" x2="1402.8" y2="1775.8" stroke="#000" stroke-width="3.0" stroke-linecap="butt"/>
<text x="1402.8" y="1839.3" font-size="31" text-anchor="middle">50</text>
<line x1="1512.5" y1="1786.3" x2="1512.5" y2="1775.8" stroke="#000" stroke-width="3.0" stroke-linecap="butt"/>
<text x="1512.5" y="1839.3" font-size="31" text-anchor="middle">100</text>
<line x1="1622.7" y1="1786.3" x2="1622.7" y2="1775.8" stroke="#000" stroke-width="3.0" stroke-linecap="butt"/>
<text x="1622.7" y="1839.3" font-size="31" text-anchor="middle">150</text>
<line x1="1732.4" y1="1786.3" x2="1732.4" y2="1775.8" stroke="#000" stroke-width="3.0" stroke-linecap="butt"/>
<text x="1732.4" y="1839.3" font-size="31" text-anchor="middle">200</text>
<text x="1513.8" y="1887.0" font-size="31" text-anchor="middle" textLength="198.8" lengthAdjust="spacingAndGlyphs">Total As (µg/g)</text>
<text x="1207.3" y="1617.3" font-size="31" text-anchor="middle" textLength="55.0" lengthAdjust="spacingAndGlyphs" transform="rotate(-90 1207.3 1617.3)">PMI</text>
<g fill="#fff" stroke="#0000ff" stroke-width="2.4">
<circle cx="1321.7" cy="1461.2" r="8.1"/>
<circle cx="1371.2" cy="1474.3" r="8.1"/>
<circle cx="1312.0" cy="1487.8" r="8.1"/>
<circle cx="1307.6" cy="1503.4" r="8.1"/>
<circle cx="1334.2" cy="1504.1" r="8.1"/>
<circle cx="1322.1" cy="1568.5" r="8.1"/>
<circle cx="1302.5" cy="1577.9" r="8.1"/>
<circle cx="1306.6" cy="1590.5" r="8.1"/>
<circle cx="1361.8" cy="1611.6" r="8.1"/>
<circle cx="1401.6" cy="1623.2" r="8.1"/>
<circle cx="1335.2" cy="1629.1" r="8.1"/>
<circle cx="1352.6" cy="1637.0" r="8.1"/>
<circle cx="1299.6" cy="1640.0" r="8.1"/>
<circle cx="1345.4" cy="1645.8" r="8.1"/>
<circle cx="1326.5" cy="1650.8" r="8.1"/>
<circle cx="1303.2" cy="1651.6" r="8.1"/>
<circle cx="1321.4" cy="1667.6" r="8.1"/>
<circle cx="1306.9" cy="1673.4" r="8.1"/>
<circle cx="1323.6" cy="1675.5" r="8.1"/>
<circle cx="1298.9" cy="1685.7" r="8.1"/>
<circle cx="1322.1" cy="1682.8" r="8.1"/>
<circle cx="1316.3" cy="1687.2" r="8.1"/>
<circle cx="1328.7" cy="1699.5" r="8.1"/>
<circle cx="1317.8" cy="1704.6" r="8.1"/>
<circle cx="1326.5" cy="1711.9" r="8.1"/>
<circle cx="1447.1" cy="1672.2" r="8.1"/>
<circle cx="1429.2" cy="1699.2" r="8.1"/>
<circle cx="1488.5" cy="1702.1" r="8.1"/>
<circle cx="1364.3" cy="1709.0" r="8.1"/>
<circle cx="1360.6" cy="1728.6" r="8.1"/>
<circle cx="1447.5" cy="1736.6" r="8.1"/>
<circle cx="1333.8" cy="1736.6" r="8.1"/>
<circle cx="1332.3" cy="1743.8" r="8.1"/>
<circle cx="1354.1" cy="1746.7" r="8.1"/>
<circle cx="1384.9" cy="1751.1" r="8.1"/>
<circle cx="1329.4" cy="1761.3" r="8.1"/>
<circle cx="1362.8" cy="1762.0" r="8.1"/>
<circle cx="1327.9" cy="1771.4" r="8.1"/>
<circle cx="1447.1" cy="1772.9" r="8.1"/>
<circle cx="1326.5" cy="1778.7" r="8.1"/>
<circle cx="1316.3" cy="1780.2" r="8.1"/>
<circle cx="1295.1" cy="1758.4" r="8.1"/>
<circle cx="1295.1" cy="1774.3" r="8.1"/>
<circle cx="1298.9" cy="1701.7" r="8.1"/>
<circle cx="1296.0" cy="1730.8" r="8.1"/>
<circle cx="1316.3" cy="1746.7" r="8.1"/>
<circle cx="1338.1" cy="1759.8" r="8.1"/>
<circle cx="1295.1" cy="1723.5" r="8.1"/>
<circle cx="1295.1" cy="1739.5" r="8.1"/>
<circle cx="1338.1" cy="1730.8" r="8.1"/>
<circle cx="1341.0" cy="1742.4" r="8.1"/>
<circle cx="1569.7" cy="1682.5" r="8.1"/>
</g>
<g fill="#ff0000">
<circle cx="1425.6" cy="1473.6" r="9.4"/>
<circle cx="1300.8" cy="1546.2" r="9.4"/>
<circle cx="1404.2" cy="1545.5" r="9.4"/>
<circle cx="1310.2" cy="1635.6" r="9.4"/>
<circle cx="1314.9" cy="1653.8" r="9.4"/>
<circle cx="1351.9" cy="1684.3" r="9.4"/>
<circle cx="1354.1" cy="1696.6" r="9.4"/>
<circle cx="1302.5" cy="1701.7" r="9.4"/>
<circle cx="1304.7" cy="1713.3" r="9.4"/>
<circle cx="1383.4" cy="1712.6" r="9.4"/>
<circle cx="1416.3" cy="1713.0" r="9.4"/>
<circle cx="1301.8" cy="1724.9" r="9.4"/>
<circle cx="1319.2" cy="1726.4" r="9.4"/>
<circle cx="1389.4" cy="1735.8" r="9.4"/>
<circle cx="1306.2" cy="1738.0" r="9.4"/>
<circle cx="1298.9" cy="1745.3" r="9.4"/>
<circle cx="1365.4" cy="1748.9" r="9.4"/>
<circle cx="1300.3" cy="1756.9" r="9.4"/>
<circle cx="1319.2" cy="1764.2" r="9.4"/>
<circle cx="1349.3" cy="1764.2" r="9.4"/>
<circle cx="1303.2" cy="1767.1" r="9.4"/>
<circle cx="1301.8" cy="1775.8" r="9.4"/>
<circle cx="1295.1" cy="1781.6" r="9.4"/>
<circle cx="1313.4" cy="1719.1" r="9.4"/>
<circle cx="1323.6" cy="1727.9" r="9.4"/>
<circle cx="1313.4" cy="1733.7" r="9.4"/>
<circle cx="1309.1" cy="1727.9" r="9.4"/>
<circle cx="1297.4" cy="1735.1" r="9.4"/>
<circle cx="1295.1" cy="1751.1" r="9.4"/>
<circle cx="1310.5" cy="1768.5" r="9.4"/>
<circle cx="1322.1" cy="1765.6" r="9.4"/>
<circle cx="1309.1" cy="1759.8" r="9.4"/>
<circle cx="1298.9" cy="1767.1" r="9.4"/>
<circle cx="1296.0" cy="1778.7" r="9.4"/>
<circle cx="1303.2" cy="1778.7" r="9.4"/>
<circle cx="1295.1" cy="1784.5" r="9.4"/>
<circle cx="1301.8" cy="1724.9" r="9.4"/>
<circle cx="1708.4" cy="1720.5" r="9.4"/>
</g>
<rect x="1541.2" y="1470.0" width="168.2" height="99.2" fill="#fff" stroke="#000" stroke-width="3.2"/>
<circle cx="1564.6" cy="1494.2" r="8.8" fill="none" stroke="#0000ff" stroke-width="2.6"/>
<circle cx="1564.6" cy="1544.4" r="10.1" fill="#ff0000"/>
<text x="1582.3" y="1503.7" font-size="31" text-anchor="start" textLength="116.0" lengthAdjust="spacingAndGlyphs">Controls</text>
<text x="1582.3" y="1553.4" font-size="31" text-anchor="start" textLength="77.2" lengthAdjust="spacingAndGlyphs">Cases</text>
<rect x="1538.6" y="1579.4" width="173.4" height="106.4" fill="#fff" stroke="#000" stroke-width="2.3"/>
<text x="1625.0" y="1622.4" font-size="31" text-anchor="middle" textLength="112.6" lengthAdjust="spacingAndGlyphs"><tspan font-style="italic">r</tspan> = -0.01</text>
<text x="1625.0" y="1662.8" font-size="31" text-anchor="middle" textLength="108.3" lengthAdjust="spacingAndGlyphs"><tspan font-style="italic">p</tspan> = 0.95</text>
<line x1="152.0" y1="1934.7" x2="152.0" y2="2275.6" stroke="#000" stroke-width="3.0" stroke-linecap="butt"/>
<line x1="150.5" y1="2274.1" x2="530.7" y2="2274.1" stroke="#000" stroke-width="3.0" stroke-linecap="butt"/>
<line x1="152.0" y1="1936.2" x2="162.5" y2="1936.2" stroke="#000" stroke-width="3.0" stroke-linecap="butt"/>
<text x="120.7" y="1945.6" font-size="31" text-anchor="end">14.0</text>
<line x1="152.0" y1="2003.8" x2="162.5" y2="2003.8" stroke="#000" stroke-width="3.0" stroke-linecap="butt"/>
<text x="120.7" y="2013.2" font-size="31" text-anchor="end">12.0</text>
<line x1="152.0" y1="2071.4" x2="162.5" y2="2071.4" stroke="#000" stroke-width="3.0" stroke-linecap="butt"/>
<text x="120.7" y="2080.8" font-size="31" text-anchor="end">10.0</text>
<line x1="152.0" y1="2138.9" x2="162.5" y2="2138.9" stroke="#000" stroke-width="3.0" stroke-linecap="butt"/>
<text x="120.7" y="2148.3" font-size="31" text-anchor="end">8.0</text>
<line x1="152.0" y1="2206.5" x2="162.5" y2="2206.5" stroke="#000" stroke-width="3.0" stroke-linecap="butt"/>
<text x="120.7" y="2215.9" font-size="31" text-anchor="end">6.0</text>
<line x1="152.0" y1="2274.1" x2="162.5" y2="2274.1" stroke="#000" stroke-width="3.0" stroke-linecap="butt"/>
<text x="120.7" y="2283.5" font-size="31" text-anchor="end">4.0</text>
<line x1="277.1" y1="2274.1" x2="277.1" y2="2264.6" stroke="#000" stroke-width="3.0" stroke-linecap="butt"/>
<line x1="402.7" y1="2274.1" x2="402.7" y2="2264.6" stroke="#000" stroke-width="3.0" stroke-linecap="butt"/>
<line x1="529.2" y1="2274.1" x2="529.2" y2="2264.6" stroke="#000" stroke-width="3.0" stroke-linecap="butt"/>
<line x1="277.1" y1="2110.7" x2="277.1" y2="2192.4" stroke="#000" stroke-width="3.3" stroke-linecap="butt"/>
<line x1="269.6" y1="2110.7" x2="284.6" y2="2110.7" stroke="#000" stroke-width="3.3" stroke-linecap="butt"/>
<line x1="269.6" y1="2192.4" x2="284.6" y2="2192.4" stroke="#000" stroke-width="3.3" stroke-linecap="butt"/>
<circle cx="277.1" cy="2151.7" r="9.8" fill="#000"/>
<line x1="402.7" y1="2045.6" x2="402.7" y2="2186.2" stroke="#000" stroke-width="3.3" stroke-linecap="butt"/>
<line x1="395.2" y1="2045.6" x2="410.2" y2="2045.6" stroke="#000" stroke-width="3.3" stroke-linecap="butt"/>
<line x1="395.2" y1="2186.2" x2="410.2" y2="2186.2" stroke="#000" stroke-width="3.3" stroke-linecap="butt"/>
<circle cx="402.7" cy="2115.7" r="9.8" fill="#000"/>
<text x="27.9" y="2097.9" font-size="31" text-anchor="middle" textLength="225.8" lengthAdjust="spacingAndGlyphs" transform="rotate(-90 27.9 2097.9)">Mean crude SMI</text>
<text x="288.8" y="2315.5" font-size="31" text-anchor="middle" textLength="103.0" lengthAdjust="spacingAndGlyphs">Control</text>
<text x="407.7" y="2318.7" font-size="31" text-anchor="middle" textLength="63.4" lengthAdjust="spacingAndGlyphs">Case</text>
<line x1="741.4" y1="1934.7" x2="741.4" y2="2275.6" stroke="#000" stroke-width="3.0" stroke-linecap="butt"/>
<line x1="739.9" y1="2274.1" x2="1120.1" y2="2274.1" stroke="#000" stroke-width="3.0" stroke-linecap="butt"/>
<line x1="741.4" y1="1936.2" x2="751.9" y2="1936.2" stroke="#000" stroke-width="3.0" stroke-linecap="butt"/>
<text x="710.1" y="1945.6" font-size="31" text-anchor="end">14.0</text>
<line x1="741.4" y1="2003.8" x2="751.9" y2="2003.8" stroke="#000" stroke-width="3.0" stroke-linecap="butt"/>
<text x="710.1" y="2013.2" font-size="31" text-anchor="end">12.0</text>
<line x1="741.4" y1="2071.4" x2="751.9" y2="2071.4" stroke="#000" stroke-width="3.0" stroke-linecap="butt"/>
<text x="710.1" y="2080.8" font-size="31" text-anchor="end">10.0</text>
<line x1="741.4" y1="2138.9" x2="751.9" y2="2138.9" stroke="#000" stroke-width="3.0" stroke-linecap="butt"/>
<text x="710.1" y="2148.3" font-size="31" text-anchor="end">8.0</text>
<line x1="741.4" y1="2206.5" x2="751.9" y2="2206.5" stroke="#000" stroke-width="3.0" stroke-linecap="butt"/>
<text x="710.1" y="2215.9" font-size="31" text-anchor="end">6.0</text>
<line x1="741.4" y1="2274.1" x2="751.9" y2="2274.1" stroke="#000" stroke-width="3.0" stroke-linecap="butt"/>
<text x="710.1" y="2283.5" font-size="31" text-anchor="end">4.0</text>
<line x1="866.6" y1="2274.1" x2="866.6" y2="2264.6" stroke="#000" stroke-width="3.0" stroke-linecap="butt"/>
<line x1="992.6" y1="2274.1" x2="992.6" y2="2264.6" stroke="#000" stroke-width="3.0" stroke-linecap="butt"/>
<line x1="1118.6" y1="2274.1" x2="1118.6" y2="2264.6" stroke="#000" stroke-width="3.0" stroke-linecap="butt"/>
<line x1="866.6" y1="1999.5" x2="866.6" y2="2213.4" stroke="#000" stroke-width="3.3" stroke-linecap="butt"/>
<line x1="859.1" y1="1999.5" x2="874.1" y2="1999.5" stroke="#000" stroke-width="3.3" stroke-linecap="butt"/>
<line x1="859.1" y1="2213.4" x2="874.1" y2="2213.4" stroke="#000" stroke-width="3.3" stroke-linecap="butt"/>
<circle cx="866.6" cy="2107.0" r="9.8" fill="#000"/>
<line x1="992.6" y1="1952.7" x2="992.6" y2="2190.6" stroke="#000" stroke-width="3.3" stroke-linecap="butt"/>
<line x1="985.1" y1="1952.7" x2="1000.1" y2="1952.7" stroke="#000" stroke-width="3.3" stroke-linecap="butt"/>
<line x1="985.1" y1="2190.6" x2="1000.1" y2="2190.6" stroke="#000" stroke-width="3.3" stroke-linecap="butt"/>
<circle cx="992.6" cy="2071.4" r="9.8" fill="#000"/>
<text x="617.9" y="2117.6" font-size="31" text-anchor="middle" textLength="265.8" lengthAdjust="spacingAndGlyphs" transform="rotate(-90 617.9 2117.6)">Mean adjusted SMI</text>
<text x="877.8" y="2315.5" font-size="31" text-anchor="middle" textLength="103.0" lengthAdjust="spacingAndGlyphs">Control</text>
<text x="997.0" y="2318.7" font-size="31" text-anchor="middle" textLength="63.4" lengthAdjust="spacingAndGlyphs">Case</text>
<line x1="1293.6" y1="1931.8" x2="1293.6" y2="2269.1" stroke="#000" stroke-width="3.0" stroke-linecap="butt"/>
<line x1="1292.1" y1="2267.6" x2="1733.7" y2="2267.6" stroke="#000" stroke-width="3.2" stroke-linecap="butt"/>
<line x1="1293.6" y1="1932.8" x2="1733.9" y2="1932.8" stroke="#000" stroke-width="2.4" stroke-linecap="butt"/>
<line x1="1732.7" y1="1932.8" x2="1732.7" y2="2267.6" stroke="#000" stroke-width="2.6" stroke-linecap="butt"/>
<line x1="1293.6" y1="1932.8" x2="1303.2" y2="1932.8" stroke="#000" stroke-width="3.0" stroke-linecap="butt"/>
<text x="1261.6" y="1941.5" font-size="31" text-anchor="end">50</text>
<line x1="1293.6" y1="1999.8" x2="1303.2" y2="1999.8" stroke="#000" stroke-width="3.0" stroke-linecap="butt"/>
<text x="1261.6" y="2008.5" font-size="31" text-anchor="end">40</text>
<line x1="1293.6" y1="2066.7" x2="1303.2" y2="2066.7" stroke="#000" stroke-width="3.0" stroke-linecap="butt"/>
<text x="1261.6" y="2075.4" font-size="31" text-anchor="end">30</text>
<line x1="1293.6" y1="2133.7" x2="1303.2" y2="2133.7" stroke="#000" stroke-width="3.0" stroke-linecap="butt"/>
<text x="1261.6" y="2142.4" font-size="31" text-anchor="end">20</text>
<line x1="1293.6" y1="2200.6" x2="1303.2" y2="2200.6" stroke="#000" stroke-width="3.0" stroke-linecap="butt"/>
<text x="1261.6" y="2209.3" font-size="31" text-anchor="end">10</text>
<line x1="1293.6" y1="2267.6" x2="1303.2" y2="2267.6" stroke="#000" stroke-width="3.0" stroke-linecap="butt"/>
<text x="1261.6" y="2276.3" font-size="31" text-anchor="end">0</text>
<text x="1293.4" y="2321.0" font-size="31" text-anchor="middle">0</text>
<line x1="1402.8" y1="2267.6" x2="1402.8" y2="2257.1" stroke="#000" stroke-width="3.0" stroke-linecap="butt"/>
<text x="1402.8" y="2321.0" font-size="31" text-anchor="middle">50</text>
<line x1="1512.5" y1="2267.6" x2="1512.5" y2="2257.1" stroke="#000" stroke-width="3.0" stroke-linecap="butt"/>
<text x="1512.5" y="2321.0" font-size="31" text-anchor="middle">100</text>
<line x1="1622.7" y1="2267.6" x2="1622.7" y2="2257.1" stroke="#000" stroke-width="3.0" stroke-linecap="butt"/>
<text x="1622.7" y="2321.0" font-size="31" text-anchor="middle">150</text>
<line x1="1732.7" y1="2267.6" x2="1732.7" y2="2257.1" stroke="#000" stroke-width="3.0" stroke-linecap="butt"/>
<text x="1732.7" y="2321.0" font-size="31" text-anchor="middle">200</text>
<text x="1513.8" y="2372.3" font-size="31" text-anchor="middle" textLength="198.8" lengthAdjust="spacingAndGlyphs">Total As (µg/g)</text>
<text x="1207.3" y="2101.0" font-size="31" text-anchor="middle" textLength="53.0" lengthAdjust="spacingAndGlyphs" transform="rotate(-90 1207.3 2101.0)">SMI</text>
<g fill="#fff" stroke="#0000ff" stroke-width="2.4">
<circle cx="1447.1" cy="1983.7" r="8.1"/>
<circle cx="1326.8" cy="2073.8" r="8.1"/>
<circle cx="1328.4" cy="2100.8" r="8.1"/>
<circle cx="1322.1" cy="2116.3" r="8.1"/>
<circle cx="1335.2" cy="2130.8" r="8.1"/>
<circle cx="1401.6" cy="2143.9" r="8.1"/>
<circle cx="1300.3" cy="2151.2" r="8.1"/>
<circle cx="1301.1" cy="2171.5" r="8.1"/>
<circle cx="1296.0" cy="2180.2" r="8.1"/>
<circle cx="1317.8" cy="2186.1" r="8.1"/>
<circle cx="1336.7" cy="2190.4" r="8.1"/>
<circle cx="1330.8" cy="2203.5" r="8.1"/>
<circle cx="1335.2" cy="2207.9" r="8.1"/>
<circle cx="1332.3" cy="2220.9" r="8.1"/>
<circle cx="1346.8" cy="2222.4" r="8.1"/>
<circle cx="1362.8" cy="2223.1" r="8.1"/>
<circle cx="1329.4" cy="2236.9" r="8.1"/>
<circle cx="1322.1" cy="2247.1" r="8.1"/>
<circle cx="1323.6" cy="2252.9" r="8.1"/>
<circle cx="1317.8" cy="2254.3" r="8.1"/>
<circle cx="1304.7" cy="2258.7" r="8.1"/>
<circle cx="1384.6" cy="2251.4" r="8.1"/>
<circle cx="1371.2" cy="2258.0" r="8.1"/>
<circle cx="1447.5" cy="2199.4" r="8.1"/>
<circle cx="1428.9" cy="2221.4" r="8.1"/>
<circle cx="1447.1" cy="2231.8" r="8.1"/>
<circle cx="1488.5" cy="2231.1" r="8.1"/>
<circle cx="1295.1" cy="2232.5" r="8.1"/>
<circle cx="1295.1" cy="2239.8" r="8.1"/>
<circle cx="1569.7" cy="2231.6" r="8.1"/>
</g>
<g fill="#ff0000">
<circle cx="1416.3" cy="1944.5" r="9.4"/>
<circle cx="1305.9" cy="2188.2" r="9.4"/>
<circle cx="1318.5" cy="2190.4" r="9.4"/>
<circle cx="1297.4" cy="2193.3" r="9.4"/>
<circle cx="1349.4" cy="2185.3" r="9.4"/>
<circle cx="1383.4" cy="2168.6" r="9.4"/>
<circle cx="1425.3" cy="2164.7" r="9.4"/>
<circle cx="1317.8" cy="2200.6" r="9.4"/>
<circle cx="1301.8" cy="2207.9" r="9.4"/>
<circle cx="1295.1" cy="2216.6" r="9.4"/>
<circle cx="1313.4" cy="2218.0" r="9.4"/>
<circle cx="1389.4" cy="2206.4" r="9.4"/>
<circle cx="1404.2" cy="2221.7" r="9.4"/>
<circle cx="1357.7" cy="2220.2" r="9.4"/>
<circle cx="1322.1" cy="2228.2" r="9.4"/>
<circle cx="1301.8" cy="2232.5" r="9.4"/>
<circle cx="1351.2" cy="2236.2" r="9.4"/>
<circle cx="1365.7" cy="2237.6" r="9.4"/>
<circle cx="1314.9" cy="2241.3" r="9.4"/>
<circle cx="1298.9" cy="2245.6" r="9.4"/>
<circle cx="1351.2" cy="2247.1" r="9.4"/>
<circle cx="1296.0" cy="2251.4" r="9.4"/>
<circle cx="1309.1" cy="2244.2" r="9.4"/>
<circle cx="1309.1" cy="2210.8" r="9.4"/>
<circle cx="1304.7" cy="2225.3" r="9.4"/>
<circle cx="1323.6" cy="2219.5" r="9.4"/>
<circle cx="1327.9" cy="2234.0" r="9.4"/>
<circle cx="1313.4" cy="2231.1" r="9.4"/>
<circle cx="1320.7" cy="2241.3" r="9.4"/>
<circle cx="1708" cy="2070" r="9.4"/>
</g>
<rect x="1548.4" y="1952.5" width="164.0" height="99.5" fill="#fff" stroke="#000" stroke-width="3.2"/>
<circle cx="1570.0" cy="1977.0" r="8.8" fill="none" stroke="#0000ff" stroke-width="2.6"/>
<circle cx="1570.0" cy="2027.2" r="10.1" fill="#ff0000"/>
<text x="1587.3" y="1986.5" font-size="31" text-anchor="start" textLength="116.0" lengthAdjust="spacingAndGlyphs">Controls</text>
<text x="1587.3" y="2036.3" font-size="31" text-anchor="start" textLength="77.2" lengthAdjust="spacingAndGlyphs">Cases</text>
<rect x="1514.6" y="2061.0" width="199.0" height="106.3" fill="#fff" stroke="#000" stroke-width="2.3"/>
<text x="1614.0" y="2104.1" font-size="31" text-anchor="middle" textLength="102.4" lengthAdjust="spacingAndGlyphs"><tspan font-style="italic">r</tspan> = 0.22</text>
<text x="1614.0" y="2144.4" font-size="31" text-anchor="middle" textLength="142.0" lengthAdjust="spacingAndGlyphs"><tspan font-style="italic">p</tspan> = 0.0062</text>
</svg>
</body></html>
